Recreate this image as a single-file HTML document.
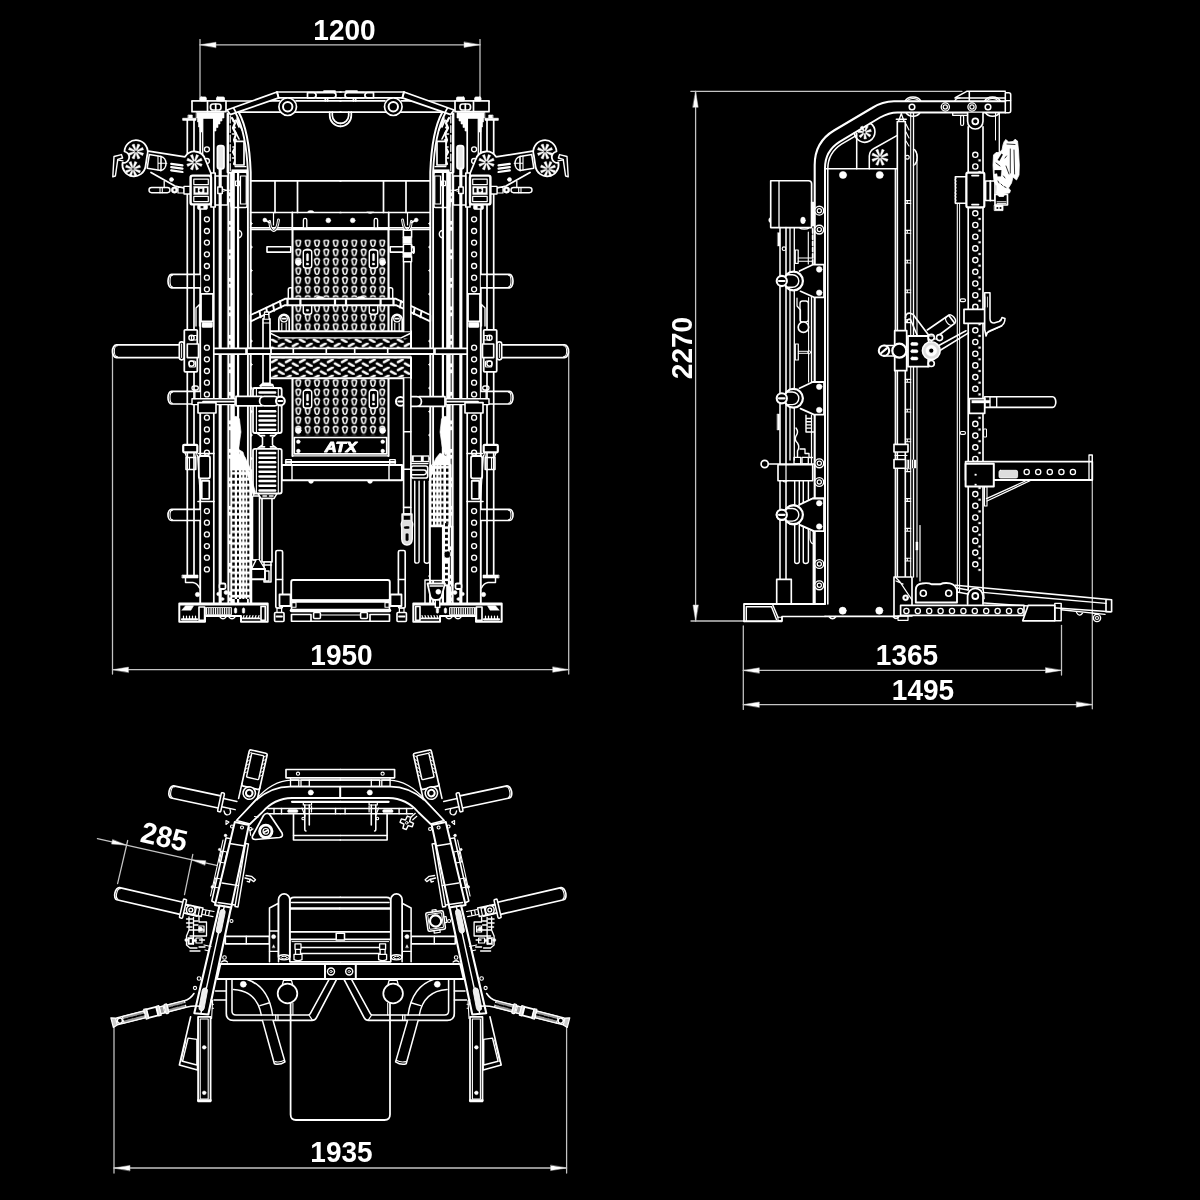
<!DOCTYPE html>
<html><head><meta charset="utf-8"><title>ATX multi-gym dimensions</title>
<style>
html,body{margin:0;padding:0;background:#000;}
body{width:1200px;height:1200px;overflow:hidden;font-family:"Liberation Sans",sans-serif;}
svg{display:block}
svg *{vector-effect:none}
.d{fill:none;stroke:#fff;stroke-width:1.7;stroke-linecap:round;stroke-linejoin:round}
.t{font-family:"Liberation Sans",sans-serif;font-weight:bold;fill:#fff;stroke:none}
</style></head><body>
<svg width="1200" height="1200" viewBox="0 0 1200 1200">
<rect width="1200" height="1200" fill="#000"/>
<g class="d" style="filter:blur(0.4px)">
<g stroke="#c4c4c4">
<path d="M200.0 39.6L200.0 109.0" stroke-width="1.26"/>
<path d="M480.0 39.6L480.0 109.0" stroke-width="1.26"/>
<path d="M200.0 44.8L480.0 44.8" stroke-width="1.26"/>
<path d="M200.0 44.8L216.0 42.2L216.0 47.4Z" fill="#fff" stroke-width="0.5"/>
<path d="M480.0 44.8L464.0 47.4L464.0 42.2Z" fill="#fff" stroke-width="0.5"/>
<text x="344.5" y="39.6" font-size="29.6" text-anchor="middle" textLength="62.3" lengthAdjust="spacingAndGlyphs" class="t">1200</text>
<path d="M112.5 352.0L112.5 674.0" stroke-width="1.26"/>
<path d="M568.7 352.0L568.7 674.0" stroke-width="1.26"/>
<path d="M112.5 669.7L568.7 669.7" stroke-width="1.26"/>
<path d="M112.5 669.7L128.5 667.1L128.5 672.3Z" fill="#fff" stroke-width="0.5"/>
<path d="M568.7 669.7L552.7 672.3L552.7 667.1Z" fill="#fff" stroke-width="0.5"/>
<text x="341.5" y="665.2" font-size="29.6" text-anchor="middle" textLength="62.3" lengthAdjust="spacingAndGlyphs" class="t">1950</text>
<path d="M695.6 91.3L695.6 621.0" stroke-width="1.26"/>
<path d="M690.8 91.3L962.0 91.3" stroke-width="1.26"/>
<path d="M691.0 621.0L781.0 621.0" stroke-width="1.26"/>
<path d="M695.6 91.3L698.2 107.3L693.0 107.3Z" fill="#fff" stroke-width="0.5"/>
<path d="M695.6 621.0L693.0 605.0L698.2 605.0Z" fill="#fff" stroke-width="0.5"/>
<text x="691.8" y="348" font-size="29.6" text-anchor="middle" textLength="62.3" lengthAdjust="spacingAndGlyphs" class="t" transform="rotate(-90 691.8 348)">2270</text>
<path d="M743.3 626.0L743.3 709.4" stroke-width="1.26"/>
<path d="M1061.5 625.4L1061.5 675.0" stroke-width="1.26"/>
<path d="M1092.3 456.0L1092.3 708.8" stroke-width="1.26"/>
<path d="M743.3 670.4L1061.5 670.4" stroke-width="1.26"/>
<path d="M743.3 704.6L1092.3 704.6" stroke-width="1.26"/>
<path d="M743.3 670.4L759.3 667.8L759.3 673.0Z" fill="#fff" stroke-width="0.5"/>
<path d="M1061.5 670.4L1045.5 673.0L1045.5 667.8Z" fill="#fff" stroke-width="0.5"/>
<path d="M743.3 704.6L759.3 702.0L759.3 707.2Z" fill="#fff" stroke-width="0.5"/>
<path d="M1092.3 704.6L1076.3 707.2L1076.3 702.0Z" fill="#fff" stroke-width="0.5"/>
<text x="907" y="665" font-size="29.6" text-anchor="middle" textLength="62.3" lengthAdjust="spacingAndGlyphs" class="t">1365</text>
<text x="923" y="699.8" font-size="29.6" text-anchor="middle" textLength="62.3" lengthAdjust="spacingAndGlyphs" class="t">1495</text>
<path d="M114.0 1027.0L114.0 1173.0" stroke-width="1.26"/>
<path d="M566.6 1027.0L566.6 1173.0" stroke-width="1.26"/>
<path d="M114.0 1168.0L566.6 1168.0" stroke-width="1.26"/>
<path d="M114.0 1168.0L130.0 1165.4L130.0 1170.6Z" fill="#fff" stroke-width="0.5"/>
<path d="M566.6 1168.0L550.6 1170.6L550.6 1165.4Z" fill="#fff" stroke-width="0.5"/>
<text x="341.5" y="1161.6" font-size="29.6" text-anchor="middle" textLength="62.3" lengthAdjust="spacingAndGlyphs" class="t">1935</text>
<path d="M97.4 838.7L216.6 865.3" stroke-width="1.26"/>
<path d="M127.7 840.5L117.6 883.6" stroke-width="1.26"/>
<path d="M192.8 854.3L184.5 894.6" stroke-width="1.26"/>
<path d="M126.2 845.1L111.6 844.1L112.5 839.8Z" fill="#fff" stroke-width="0.5"/>
<path d="M191.3 859.7L205.9 860.7L205.0 865.0Z" fill="#fff" stroke-width="0.5"/>
<text x="162" y="846.6" font-size="29.6" text-anchor="middle" textLength="46.8" lengthAdjust="spacingAndGlyphs" class="t" transform="rotate(12.6 162 846.6)">285</text>
</g>
<defs>
<pattern id="ph" patternUnits="userSpaceOnUse" x="293.67" y="238.63" width="9.33" height="9.33">
<path d="M2.3 3.1Q2.3 1.3 4.67 1.3Q7.03 1.3 7.03 3.1L6 7Q4.67 8.4 3.33 7Z" fill="#000" stroke="#fff" stroke-width="1.5"/>
</pattern>
<pattern id="pd" patternUnits="userSpaceOnUse" x="270.8" y="358.8" width="14" height="8">
<path d="M1.1 3.3L5.9 0.7M8.1 4.7L12.9 7.3" stroke="#fff" stroke-width="2.5" stroke-linecap="round"/>
</pattern>
<pattern id="pd1" patternUnits="userSpaceOnUse" x="263.7" y="334.8" width="14" height="8">
<path d="M1.1 3.3L5.9 0.7M8.1 4.7L12.9 7.3" stroke="#fff" stroke-width="2.5" stroke-linecap="round"/>
</pattern>
<pattern id="pg" patternUnits="userSpaceOnUse" x="228" y="502.4" width="24" height="5.85">
<rect width="24" height="5.85" fill="#fff" stroke="none"/>
<rect x="4.25" y="1.5" width="2.5" height="3.2" fill="#000" stroke="none"/><rect x="9" y="1.5" width="2" height="3.2" fill="#000" stroke="none"/>
<rect x="13.3" y="1.9" width="1" height="2.4" fill="#000" stroke="none"/><rect x="16.4" y="1.8" width="1.3" height="2.6" fill="#000" stroke="none"/><rect x="19.3" y="1.5" width="2" height="3.2" fill="#000" stroke="none"/>
</pattern>
<pattern id="pgr" patternUnits="userSpaceOnUse" x="429" y="461.2" width="24" height="5.87">
<rect width="24" height="5.87" fill="#fff" stroke="none"/>
<rect x="17" y="1.5" width="2.4" height="3.2" fill="#000" stroke="none"/><rect x="12.4" y="1.5" width="2" height="3.2" fill="#000" stroke="none"/>
<rect x="9.5" y="1.9" width="1.1" height="2.4" fill="#000" stroke="none"/><rect x="6.2" y="1.8" width="1.1" height="2.6" fill="#000" stroke="none"/><rect x="2.4" y="1.5" width="1.6" height="3.2" fill="#000" stroke="none"/>
</pattern>
</defs>
<g id="fl"><path d="M192.0 101.0L253.0 101.0"/>
<path d="M296.0 100.8L340.9 100.8"/>
<path d="M270.0 100.8L279.5 100.8"/>
<path d="M240.0 112.2L340.9 112.2"/>
<rect x="192.0" y="101.0" width="34.0" height="10.7" fill="#000"/>
<path d="M207.5 101.0L207.5 111.7"/>
<rect x="210.5" y="104.0" width="10.5" height="6.0" rx="2.5"/>
<path d="M215.7 104.0L215.7 110.0"/>
<rect x="200.0" y="97.0" width="6.3" height="4.0" rx="1.2" fill="#fff" stroke-width="0.8"/>
<rect x="216.5" y="97.0" width="8.0" height="4.0" rx="1.2" fill="#fff" stroke-width="0.8"/>
<path d="M227.0 110.0L277.0 92.0L278.7 97.9L230.3 114.6Z" fill="#000"/>
<path d="M233.8 108.3L236.0 112.7"/>
<path d="M277.0 92.0L340.9 92.0"/>
<path d="M278.7 97.9L340.9 97.9"/>
<path d="M277.0 92.0L278.7 97.9"/>
<path d="M307.5 92.6H313.5A2.6 2.6 0 0 1 313.5 97.8H307.5Z"/>
<path d="M317 92.6H333.4A2.6 2.6 0 0 1 333.4 97.8H317"/>
<path d="M324.0 91.2L335.0 91.2" stroke-width="1.76"/>
<path d="M325.3 98.0L325.3 100.8"/>
<path d="M327.6 98.0L327.6 100.8"/>
<circle cx="287.7" cy="106.7" r="8.8" fill="#000"/>
<circle cx="287.7" cy="106.7" r="4.7" stroke-width="1.98"/>
<path d="M329.7 112.2V115.5A10.8 10.8 0 0 0 340.5 126.3"/>
<path d="M332.3 112.2V115.5A8.2 8.2 0 0 0 340.5 123.4"/>
<path d="M238.7 112.3C244 122 249.5 140 250.7 172V603" stroke-width="1.98"/>
<path d="M236 113.7C241 123 246.5 141 247.9 172V603" stroke-width="1.87"/>
<path d="M250.7 180.8L340.9 180.8"/>
<path d="M275.0 180.8L275.0 212.5"/>
<path d="M297.5 180.8L297.5 212.5"/>
<path d="M250.7 212.5L340.9 212.5"/>
<path d="M250.7 227.8L340.9 227.8"/>
<path d="M250.7 229.6L340.9 229.6" stroke-width="1.32"/>
<path d="M292.3 212.5L292.3 228.0" stroke-width="1.76"/>
<path d="M187.3 120.3L187.3 575.0"/>
<path d="M194.0 120.3L194.0 575.0"/>
<rect x="183.0" y="118.3" width="13.0" height="2.0" fill="#fff" stroke-width="0.8"/>
<rect x="188.3" y="115.0" width="4.0" height="3.0" fill="#fff" stroke-width="0.6"/>
<path d="M196.5 112.5H224V118H222V121H220V124H218V127.5H216V131H214V118.5H203V118.5H202V132H200V127H198.5V122H197.5V118H196.5Z" fill="#fff" stroke-width="0.6"/>
<path d="M200.2 126.0L200.2 603.0" stroke-width="1.87"/>
<path d="M202.7 118.0L202.7 175.0" stroke-width="1.32"/>
<path d="M213.8 118.0L213.8 603.0"/>
<circle cx="206.9" cy="149.3" r="2.5" stroke-width="1.32"/>
<circle cx="206.9" cy="161.0" r="2.5" stroke-width="1.32"/>
<circle cx="206.9" cy="219.3" r="2.5" stroke-width="1.32"/>
<circle cx="206.9" cy="231.0" r="2.5" stroke-width="1.32"/>
<circle cx="206.9" cy="242.6" r="2.5" stroke-width="1.32"/>
<circle cx="206.9" cy="254.3" r="2.5" stroke-width="1.32"/>
<circle cx="206.9" cy="266.0" r="2.5" stroke-width="1.32"/>
<circle cx="206.9" cy="277.7" r="2.5" stroke-width="1.32"/>
<circle cx="206.9" cy="289.3" r="2.5" stroke-width="1.32"/>
<circle cx="206.9" cy="347.7" r="2.5" stroke-width="1.32"/>
<circle cx="206.9" cy="359.3" r="2.5" stroke-width="1.32"/>
<circle cx="206.9" cy="371.0" r="2.5" stroke-width="1.32"/>
<circle cx="206.9" cy="382.7" r="2.5" stroke-width="1.32"/>
<circle cx="206.9" cy="394.4" r="2.5" stroke-width="1.32"/>
<circle cx="206.9" cy="417.7" r="2.5" stroke-width="1.32"/>
<circle cx="206.9" cy="429.4" r="2.5" stroke-width="1.32"/>
<circle cx="206.9" cy="441.0" r="2.5" stroke-width="1.32"/>
<circle cx="206.9" cy="452.7" r="2.5" stroke-width="1.32"/>
<circle cx="206.9" cy="511.1" r="2.5" stroke-width="1.32"/>
<circle cx="206.9" cy="522.7" r="2.5" stroke-width="1.32"/>
<circle cx="206.9" cy="534.4" r="2.5" stroke-width="1.32"/>
<circle cx="206.9" cy="546.1" r="2.5" stroke-width="1.32"/>
<circle cx="206.9" cy="557.7" r="2.5" stroke-width="1.32"/>
<circle cx="206.9" cy="569.4" r="2.5" stroke-width="1.32"/>
<rect x="217.4" y="145.7" width="6.6" height="23.3" rx="2.4" fill="#e8e8e8"/>
<path d="M220.8 169.0L220.8 603.0" stroke-width="1.21"/>
<path d="M220.1 169.0L220.1 603.0" stroke-width="2.97"/>
<path d="M227.8 113.7L227.8 172.0" stroke-width="2.42"/>
<path d="M230.2 116V172" stroke-width="1.21" stroke-dasharray="7 2.5"/>
<rect x="227.8" y="172.0" width="6.7" height="431.0" fill="#fff" stroke-width="0.6"/>
<path d="M229.8 174V603" stroke-width="1.1" stroke="#333" stroke-dasharray="18 4.5 1.5 4.5"/>
<path d="M238.1 172.0L238.1 603.0" stroke-width="2.2"/>
<path d="M250.9 222.0l1.7 1.6l-1.7 1.6M250.9 245.5l1.7 1.6l-1.7 1.6M250.9 269.0l1.7 1.6l-1.7 1.6M250.9 292.5l1.7 1.6l-1.7 1.6M250.9 316.0l1.7 1.6l-1.7 1.6M250.9 339.5l1.7 1.6l-1.7 1.6M250.9 363.0l1.7 1.6l-1.7 1.6M250.9 386.5l1.7 1.6l-1.7 1.6M250.9 410.0l1.7 1.6l-1.7 1.6M250.9 433.5l1.7 1.6l-1.7 1.6M250.9 457.0l1.7 1.6l-1.7 1.6M250.9 480.5l1.7 1.6l-1.7 1.6M250.9 504.0l1.7 1.6l-1.7 1.6M250.9 527.5l1.7 1.6l-1.7 1.6M250.9 551.0l1.7 1.6l-1.7 1.6M250.9 574.5l1.7 1.6l-1.7 1.6" fill="#fff" stroke-width="0.6"/>
<path d="M238.3 230.5A3.4 3.6 0 0 1 238.3 237.7" stroke-width="1.43"/>
<path d="M232 118l3 5l-2 5l3 6l-2 6l2 6l-3 6l3 6l-2 6" stroke-width="2.2"/>
<path d="M236 120l3 7M235 131l4 8M237 118l5 12M233 121h3M232.5 134h3.5M233 147h2.5M232.5 158h3" stroke-width="1.65"/>
<circle cx="234.3" cy="127.5" r="1.3" fill="#fff" stroke-width="0.4"/>
<circle cx="235.5" cy="140.0" r="1.2" fill="#fff" stroke-width="0.4"/>
<circle cx="236.8" cy="152.0" r="1.5" fill="#fff" stroke-width="0.4"/>
<rect x="235.0" y="141.3" width="9.0" height="23.7" fill="#000"/>
<path d="M235.0 166.6L246.0 166.6" stroke-width="1.1"/>
<rect x="232.0" y="169.7" width="15.0" height="2.6" fill="#fff" stroke-width="0.5"/>
<path d="M148.5 151.2L185 156.8C187.5 153 191 151.3 195 151.5C200 151.8 204 155 205.5 160L211 173.5V189.5H190.5L175 186L151 172.5" fill="#000" stroke-width="1.76"/>
<path d="M124.5 151.5A11.6 11.6 0 1 1 147.2 155.2L145.5 166.5A11.6 11.6 0 1 1 122.5 162.8A5 5 0 0 0 124.5 151.5Z" fill="#000" stroke-width="1.76"/>
<path d="M137.29 152.57L142.54 155.56L143.50 153.25L137.67 151.65ZM136.15 153.17L137.75 159.00L140.06 158.04L137.07 152.79ZM134.93 152.79L131.94 158.04L134.25 159.00L135.85 153.17ZM134.33 151.65L128.50 153.25L129.46 155.56L134.71 152.57ZM134.71 150.43L129.46 147.44L128.50 149.75L134.33 151.35ZM135.85 149.83L134.25 144.00L131.94 144.96L134.93 150.21ZM137.07 150.21L140.06 144.96L137.75 144.00L136.15 149.83ZM137.67 151.35L143.50 149.75L142.54 147.44L137.29 150.43Z" fill="#fff" stroke-width="0.5"/>
<path d="M134.29 170.07L139.54 173.06L140.50 170.75L134.67 169.15ZM133.15 170.67L134.75 176.50L137.06 175.54L134.07 170.29ZM131.93 170.29L128.94 175.54L131.25 176.50L132.85 170.67ZM131.33 169.15L125.50 170.75L126.46 173.06L131.71 170.07ZM131.71 167.93L126.46 164.94L125.50 167.25L131.33 168.85ZM132.85 167.33L131.25 161.50L128.94 162.46L131.93 167.71ZM134.07 167.71L137.06 162.46L134.75 161.50L133.15 167.33ZM134.67 168.85L140.50 167.25L139.54 164.94L134.29 167.93Z" fill="#fff" stroke-width="0.5"/>
<path d="M195.79 163.37L201.23 166.44L202.18 164.13L196.17 162.45ZM194.65 163.97L196.33 169.98L198.64 169.03L195.57 163.59ZM193.43 163.59L190.36 169.03L192.67 169.98L194.35 163.97ZM192.83 162.45L186.82 164.13L187.77 166.44L193.21 163.37ZM193.21 161.23L187.77 158.16L186.82 160.47L192.83 162.15ZM194.35 160.63L192.67 154.62L190.36 155.57L193.43 161.01ZM195.57 161.01L198.64 155.57L196.33 154.62L194.65 160.63ZM196.17 162.15L202.18 160.47L201.23 158.16L195.79 161.23Z" fill="#fff" stroke-width="0.5"/>
<path d="M149.3 154.6L161 156.4V170.6L147.2 168.2Z" stroke-width="1.54"/>
<path d="M161 156.4A6 7.2 0 0 1 161 170.6" stroke-width="1.54"/>
<path d="M158 156V170M158 163.3H166.8" stroke-width="1.1"/>
<path d="M171.2 163.8L182.5 165.4" stroke-width="2.2"/>
<path d="M171.2 167.1L182.5 168.7" stroke-width="2.2"/>
<path d="M171.2 170.4L182.5 172.0" stroke-width="2.2"/>
<circle cx="171.5" cy="179.6" r="2.0" fill="#fff" stroke-width="0.6"/>
<path d="M114 156.5L121.5 154.6L122.6 158L117.8 159.4L115.4 176L112.8 176.8Z" stroke-width="1.43"/>
<path d="M117.5 160.0L123.0 160.8" stroke-width="1.21"/>
<rect x="149.0" y="187.5" width="21.0" height="5.2" rx="2.6" fill="#000" stroke-width="1.43"/>
<path d="M160.0 187.5L160.0 192.7" stroke-width="1.1"/>
<path d="M162.3 187.5L162.3 192.7" stroke-width="1.1"/>
<path d="M164.2 181.5L164.2 187.5" stroke-width="1.32"/>
<circle cx="174.5" cy="190.0" r="3.2" fill="#fff" stroke-width="0.6"/>
<circle cx="174.5" cy="190.0" r="1.2" fill="#000" stroke-width="0.3"/>
<rect x="178.0" y="187.3" width="6.0" height="5.7" stroke-width="1.21"/>
<rect x="184.0" y="186.3" width="6.5" height="7.7" fill="#000" stroke-width="1.32"/>
<rect x="211.0" y="173.0" width="4.2" height="34.0" fill="#000"/>
<rect x="190.6" y="175.6" width="20.4" height="28.8" rx="2" fill="#000" stroke-width="2.42"/>
<rect x="193.8" y="179.2" width="14.5" height="5.4" stroke-width="1.21"/>
<rect x="193.8" y="196.4" width="14.5" height="5.2" stroke-width="1.21"/>
<rect x="193.8" y="186.5" width="14.5" height="8.0" fill="#fff" stroke-width="0.5"/>
<circle cx="201.0" cy="190.3" r="2.1" fill="#000" stroke-width="0.8"/>
<rect x="195.3" y="188.0" width="2.7" height="4.6" fill="#000" stroke-width="0.3"/>
<rect x="204.3" y="188.0" width="2.7" height="4.6" fill="#000" stroke-width="0.3"/>
<rect x="197.5" y="204.6" width="10.0" height="4.9" rx="1.5" fill="#fff" stroke-width="0.6"/>
<rect x="200.5" y="206.0" width="3.0" height="2.3" fill="#000" stroke-width="0.3"/>
<rect x="215.2" y="176.0" width="12.3" height="29.0" stroke-width="1.32"/>
<rect x="217.8" y="187.0" width="4.5" height="6.5" fill="#000" stroke-width="1.43"/>
<path d="M222.3 189l4 1.3l-4 1.3" stroke-width="1.1"/>
<rect x="231.0" y="172.3" width="16.0" height="35.2" rx="1.5" stroke-width="1.43"/>
<rect x="240.5" y="176.0" width="5.7" height="28.0" stroke-width="1.21"/>
<rect x="235.6" y="181.0" width="4.0" height="4.6" stroke-width="1.21"/>
<path d="M226.0 190.3L232.0 190.3" stroke-width="1.1"/>
<path d="M200.2 274.3H171.5A3.5 6.75 0 0 0 171.5 287.8H200.2" fill="#000" stroke-width="1.65"/>
<path d="M172.6 275.1A2.6 5.95 0 0 0 172.6 287.0" stroke-width="1.1"/>
<path d="M187.3 274.3L187.3 287.8"/>
<path d="M194.0 274.3L194.0 287.8"/>
<path d="M200.2 391.3H171.5A3.5 6.349999999999994 0 0 0 171.5 404H200.2" fill="#000" stroke-width="1.65"/>
<path d="M172.6 392.1A2.6 5.5499999999999945 0 0 0 172.6 403.2" stroke-width="1.1"/>
<path d="M187.3 391.3L187.3 404.0"/>
<path d="M194.0 391.3L194.0 404.0"/>
<path d="M200.2 509.3H171.5A3.5 5.599999999999994 0 0 0 171.5 520.5H200.2" fill="#000" stroke-width="1.65"/>
<path d="M172.6 510.1A2.6 4.7999999999999945 0 0 0 172.6 519.7" stroke-width="1.1"/>
<path d="M187.3 509.3L187.3 520.5"/>
<path d="M194.0 509.3L194.0 520.5"/>
<rect x="201.0" y="293.8" width="12.0" height="27.7" fill="#000" stroke-width="1.76"/>
<rect x="202.0" y="322.5" width="10.5" height="5.0" rx="1" fill="#fff" stroke-width="0.5"/>
<path d="M196 326V308L199.5 304.5V326" stroke-width="1.32"/>
<path d="M180 344.8H116.5A4 6.4 0 0 0 116.5 357.6H180" fill="#000" stroke-width="1.76"/>
<path d="M117.3 345.8A3 5.4 0 0 0 117.3 356.6" stroke-width="1.1"/>
<rect x="184.3" y="329.8" width="13.0" height="42.0" rx="1" fill="#000" stroke-width="1.76"/>
<rect x="187.3" y="344.0" width="11.2" height="13.6" fill="#000" stroke-width="1.65"/>
<circle cx="191.5" cy="337.8" r="2.6" stroke-width="1.43"/>
<rect x="191.5" y="335.5" width="5.5" height="4.5" rx="1" stroke-width="1.21"/>
<circle cx="191.5" cy="363.6" r="2.6" stroke-width="1.43"/>
<rect x="189.2" y="361.0" width="6.3" height="6.0" rx="1" stroke-width="1.21"/>
<rect x="179.3" y="341.8" width="4.7" height="18.0" rx="2.2" fill="#000" stroke-width="1.65"/>
<path d="M181.6 344.0L181.6 357.5" stroke-width="0.99"/>
<rect x="213.8" y="348.4" width="32.2" height="5.8" fill="#000" stroke-width="1.65"/>
<rect x="192.0" y="398.8" width="43.0" height="5.8" fill="#000" stroke-width="1.43"/>
<path d="M203.0 401.7L234.0 401.7" stroke-width="1.76"/>
<rect x="198.0" y="402.6" width="18.0" height="10.4" fill="#000" stroke-width="1.65"/>
<rect x="192.0" y="386.0" width="6.3" height="4.0" rx="2" stroke-width="1.32"/>
<path d="M195.0 390.0L195.0 398.8" stroke-width="1.1"/>
<rect x="183.2" y="444.8" width="14.1" height="7.5" rx="1" fill="#000" stroke-width="2.2"/>
<rect x="186.0" y="457.5" width="9.8" height="12.0" stroke-width="1.54"/>
<path d="M189.5 457.5L189.5 469.5" stroke-width="1.1"/>
<path d="M185 452.5L186.5 457.5M196.5 452.5L195.5 457.5" stroke-width="1.21"/>
<rect x="198.8" y="456.0" width="11.2" height="22.5" rx="2" fill="#000" stroke-width="1.76"/>
<rect x="201.8" y="480.8" width="7.5" height="18.0" fill="#000" stroke-width="1.65"/>
<path d="M197.5 455L200.5 500" stroke-width="1.1"/>
<path d="M198.0 453.5L214.0 453.5" stroke-width="1.43"/>
<path d="M198.0 501.5L214.0 501.5" stroke-width="1.65"/>
<rect x="182.3" y="575.0" width="15.7" height="3.0" fill="#fff" stroke-width="0.6"/>
<path d="M185.5 578V582.5H193C196 583 198 585 199.5 588" stroke-width="1.43"/>
<rect x="219.5" y="583.5" width="6.0" height="5.5" rx="1.5" fill="#000" stroke-width="1.76"/>
<circle cx="218.5" cy="594.0" r="1.8" fill="#fff" stroke-width="0.5"/>
<circle cx="226.0" cy="592.5" r="2.0" fill="#fff" stroke-width="0.5"/>
<circle cx="222.5" cy="599.0" r="1.5" fill="#fff" stroke-width="0.5"/>
<circle cx="197.5" cy="594.5" r="2.2" fill="#fff" stroke-width="0.5"/>
<path d="M179.3 603.5H267.7V621.8H241V616H205V621.8H179.3Z" fill="#000" stroke-width="1.98"/>
<path d="M180.0 604.6L267.0 604.6" stroke-width="1.76"/>
<rect x="199.0" y="607.0" width="5.6" height="13.3" fill="#000" stroke-width="1.65"/>
<rect x="261.0" y="606.5" width="4.3" height="13.8" fill="#000" stroke-width="1.65"/>
<path d="M182 610L185.5 605.8H193.5L191 610Z" fill="#fff" stroke-width="0.6"/>
<path d="M182.0 619.3L197.0 619.3" stroke-width="2.2"/>
<path d="M183.5 616v3M186.5 616v3M189.5 616v3M192.5 616v3M195.5 616v3" stroke-width="1.21"/>
<rect x="205.5" y="607.6" width="26.0" height="7.0" fill="#fff" stroke-width="0.8"/>
<path d="M207.7 608.4V613.8M209.9 608.4V613.8M212.2 608.4V613.8M214.4 608.4V613.8M216.7 608.4V613.8M218.9 608.4V613.8M221.2 608.4V613.8M223.4 608.4V613.8M225.7 608.4V613.8M227.9 608.4V613.8M230.2 608.4V613.8" stroke-width="0.99" stroke="#000"/>
<path d="M205.0 615.6L240.0 615.6" stroke-width="1.1"/>
<rect x="234.3" y="608.0" width="2.5" height="5.3" rx="1.2" fill="#fff" stroke-width="0.4"/>
<rect x="242.3" y="608.0" width="2.5" height="5.3" rx="1.2" fill="#fff" stroke-width="0.4"/>
<path d="M219.5 616.3q3.5 5 7 0M228.5 616.3q3.5 5 7 0" stroke-width="1.43"/>
<path d="M243.0 618.4L259.5 618.4" stroke-width="1.76"/>
<path d="M244 615.5l-1 3M247 615.5l-1 3M250 615.5l-1 3M253 615.5l-1 3M256 615.5l-1 3M259 615.5l-1 3" stroke-width="1.1"/></g>
<use href="#fl" transform="translate(681.0 0) scale(-1 1)"/>
<path d="M269.6 221.5Q270.3 229.5 273.7 230.6Q277.3 229.5 278.5 220" stroke-width="2.86"/>
<path d="M269.6 221.5Q270.3 229.5 273.7 230.6Q277.3 229.5 278.5 220" stroke-width="0.8" stroke="#000"/>
<circle cx="264.8" cy="220.0" r="1.9" fill="#fff" stroke-width="0.5"/>
<path d="M264.8 220.0L269.5 222.5" stroke-width="1.87"/>
<rect x="303.4" y="218.3" width="3.4" height="11.7" rx="1.6" fill="#000" stroke-width="1.32"/>
<circle cx="328.3" cy="220.4" r="2.4" fill="#fff" stroke-width="0.5"/>
<path d="M307.5 212A3.3 1.8 0 0 1 314.0 212Z" fill="#fff" stroke-width="0.4"/>
<rect x="267.0" y="246.7" width="23.8" height="5.4" fill="#000" stroke-width="1.65"/>
<path d="M411.4 221.5Q410.7 229.5 407.3 230.6Q403.7 229.5 402.5 220" stroke-width="2.86"/>
<path d="M411.4 221.5Q410.7 229.5 407.3 230.6Q403.7 229.5 402.5 220" stroke-width="0.8" stroke="#000"/>
<circle cx="416.2" cy="220.0" r="1.9" fill="#fff" stroke-width="0.5"/>
<path d="M416.2 220.0L411.5 222.5" stroke-width="1.87"/>
<rect x="374.2" y="218.3" width="3.4" height="11.7" rx="1.6" fill="#000" stroke-width="1.32"/>
<circle cx="352.7" cy="220.4" r="2.4" fill="#fff" stroke-width="0.5"/>
<path d="M373.5 212A3.3 1.8 0 0 1 367.0 212Z" fill="#fff" stroke-width="0.4"/>
<rect x="390.2" y="246.7" width="23.8" height="5.4" fill="#000" stroke-width="1.65"/>
<path d="M273.5 212.5L273.5 225.0" stroke-width="1.21"/>
<path d="M407.5 212.5L407.5 225.0" stroke-width="1.21"/>
<rect x="292.5" y="229" width="96.0" height="70" fill="#000" stroke="none"/>
<rect x="293.5" y="239.5" width="94.0" height="58" fill="url(#ph)" stroke="none"/>
<rect x="293.5" y="305.5" width="94.0" height="25.5" fill="url(#ph)" stroke="none"/>
<rect x="293.5" y="378.6" width="94.0" height="56.6" fill="url(#ph)" stroke="none"/>
<path d="M292.5 228.8L388.5 228.8" stroke-width="3.08"/>
<path d="M292.5 229.0L292.5 331.0" stroke-width="2.09"/>
<path d="M388.5 229.0L388.5 331.0" stroke-width="2.09"/>
<path d="M292.5 378.0L292.5 456.0" stroke-width="2.09"/>
<path d="M388.5 378.0L388.5 456.0" stroke-width="2.09"/>
<rect x="303.3" y="250.0" width="8.4" height="18.0" rx="2.2" fill="#000" stroke-width="1.43"/>
<rect x="306.4" y="253.6" width="2.2" height="7.4" rx="1" fill="#fff" stroke-width="0.3"/>
<rect x="306.2" y="263.1" width="2.6" height="1.9" rx="0.6" fill="#fff" stroke-width="0.3"/>
<rect x="303.3" y="390.4" width="8.4" height="17.6" rx="2.2" fill="#000" stroke-width="1.43"/>
<rect x="306.4" y="394.0" width="2.2" height="7.0" rx="1" fill="#fff" stroke-width="0.3"/>
<rect x="306.2" y="403.1" width="2.6" height="1.9" rx="0.6" fill="#fff" stroke-width="0.3"/>
<rect x="303.3" y="300.0" width="8.4" height="14.2" rx="2.2" fill="#000" stroke-width="1.43"/>
<circle cx="307.5" cy="302.8" r="1.5" fill="#fff" stroke-width="0.4"/>
<rect x="306.2" y="309.3" width="2.6" height="1.9" rx="0.6" fill="#fff" stroke-width="0.3"/>
<rect x="369.3" y="250.0" width="8.4" height="18.0" rx="2.2" fill="#000" stroke-width="1.43"/>
<rect x="372.4" y="253.6" width="2.2" height="7.4" rx="1" fill="#fff" stroke-width="0.3"/>
<rect x="372.2" y="263.1" width="2.6" height="1.9" rx="0.6" fill="#fff" stroke-width="0.3"/>
<rect x="369.3" y="390.4" width="8.4" height="17.6" rx="2.2" fill="#000" stroke-width="1.43"/>
<rect x="372.4" y="394.0" width="2.2" height="7.0" rx="1" fill="#fff" stroke-width="0.3"/>
<rect x="372.2" y="403.1" width="2.6" height="1.9" rx="0.6" fill="#fff" stroke-width="0.3"/>
<rect x="369.3" y="300.0" width="8.4" height="14.2" rx="2.2" fill="#000" stroke-width="1.43"/>
<circle cx="373.5" cy="302.8" r="1.5" fill="#fff" stroke-width="0.4"/>
<rect x="372.2" y="309.3" width="2.6" height="1.9" rx="0.6" fill="#fff" stroke-width="0.3"/>
<circle cx="298.3" cy="262.3" r="2.9" fill="#fff" stroke-width="0.5"/>
<circle cx="298.3" cy="430.4" r="2.9" fill="#fff" stroke-width="0.5"/>
<path d="M288.3 298v-8.5q0 -1.8 1.8 -1.8h2v10.3" stroke-width="1.43"/>
<circle cx="382.7" cy="262.3" r="2.9" fill="#fff" stroke-width="0.5"/>
<circle cx="382.7" cy="430.4" r="2.9" fill="#fff" stroke-width="0.5"/>
<path d="M392.7 298v-8.5q0 -1.8 -1.8 -1.8h-2v10.3" stroke-width="1.43"/>
<path d="M250.8 315L285 298.8H396.0L430.2 315V321.3L396.0 305.2H285L250.8 321.3Z" fill="#000" stroke-width="1.87"/>
<path d="M287.5 298.8L287.5 305.2" stroke-width="2.2"/>
<path d="M300.4 298.8L300.4 305.2" stroke-width="2.2"/>
<path d="M335.0 298.8L335.0 305.2" stroke-width="2.2"/>
<path d="M346.0 298.8L346.0 305.2" stroke-width="2.2"/>
<path d="M380.6 298.8L380.6 305.2" stroke-width="2.2"/>
<path d="M393.5 298.8L393.5 305.2" stroke-width="2.2"/>
<path d="M259.4 310.9L260.6 317.2" stroke-width="1.98"/>
<path d="M421.6 310.9L420.4 317.2" stroke-width="1.98"/>
<path d="M266.2 307.7L267.4 314.0" stroke-width="1.98"/>
<path d="M414.8 307.7L413.6 314.0" stroke-width="1.98"/>
<path d="M273.0 304.5L274.2 310.8" stroke-width="1.98"/>
<path d="M408.0 304.5L406.8 310.8" stroke-width="1.98"/>
<path d="M279.9 301.2L281.1 307.5" stroke-width="1.98"/>
<path d="M401.1 301.2L399.9 307.5" stroke-width="1.98"/>
<path d="M316 298.3A4 2 0 0 1 324 298.3ZM365.0 298.3A4 2 0 0 0 357.0 298.3Z" fill="#fff" stroke-width="0.3"/>
<path d="M278.8 331V319.5A5.2 5.2 0 0 1 289.2 319.5V331" fill="#000" stroke-width="1.65"/>
<circle cx="284.0" cy="318.6" r="3.3" stroke-width="1.32"/>
<path d="M282.3 318.6L285.7 318.6" stroke-width="1.65"/>
<path d="M281.8 323.0L281.8 331.0" stroke-width="1.1"/>
<path d="M286.2 323.0L286.2 331.0" stroke-width="1.1"/>
<path d="M402.2 331V319.5A5.2 5.2 0 0 0 391.8 319.5V331" fill="#000" stroke-width="1.65"/>
<circle cx="397.0" cy="318.6" r="3.3" stroke-width="1.32"/>
<path d="M398.7 318.6L395.3 318.6" stroke-width="1.65"/>
<path d="M399.2 323.0L399.2 331.0" stroke-width="1.1"/>
<path d="M394.8 323.0L394.8 331.0" stroke-width="1.1"/>
<rect x="270.0" y="331.3" width="141.0" height="20.4" fill="#000" stroke-width="1.98"/>
<rect x="271" y="338.5" width="139.0" height="12.5" fill="url(#pd1)" stroke="none"/>
<path d="M270.8 333.5L280 337.9H401.0L410.2 333.5" stroke-width="1.43"/>
<rect x="270.0" y="357.5" width="141.0" height="20.8" fill="#000" stroke-width="1.98"/>
<rect x="271" y="358.6" width="139.0" height="18.6" fill="url(#pd)" stroke="none"/>
<rect x="247.0" y="348.3" width="187.0" height="5.7" fill="#000" stroke-width="1.76"/>
<path d="M293.3 348.3L293.3 354.0" stroke-width="1.65"/>
<path d="M326.3 348.3L326.3 354.0" stroke-width="1.65"/>
<path d="M387.7 348.3L387.7 354.0" stroke-width="1.65"/>
<path d="M354.7 348.3L354.7 354.0" stroke-width="1.65"/>
<path d="M270.0 356.2L411.0 356.2" stroke-width="1.1"/>
<rect x="294.3" y="437.5" width="92.4" height="16.3" fill="#000" stroke-width="1.65"/>
<circle cx="298.3" cy="441.7" r="1.9" fill="#fff" stroke-width="0.4"/>
<circle cx="298.3" cy="451.0" r="1.9" fill="#fff" stroke-width="0.4"/>
<circle cx="382.7" cy="441.7" r="1.9" fill="#fff" stroke-width="0.4"/>
<circle cx="382.7" cy="451.0" r="1.9" fill="#fff" stroke-width="0.4"/>
<text x="340.8" y="451.6" font-size="14" text-anchor="middle" font-style="italic" textLength="32" lengthAdjust="spacingAndGlyphs" style="font-family:'Liberation Sans',sans-serif;font-weight:bold;fill:#fff;stroke:#fff;stroke-width:0.9;paint-order:stroke">ATX</text>
<path d="M292.5 455.8L388.5 455.8" stroke-width="1.32"/>
<path d="M285.8 462.0L395.2 462.0" stroke-width="2.2"/>
<rect x="285.8" y="459.6" width="5.5" height="4.6" stroke-width="1.32"/>
<rect x="389.7" y="459.6" width="5.5" height="4.6" stroke-width="1.32"/>
<rect x="281.7" y="465.0" width="120.3" height="15.3" fill="#000" stroke-width="2.09"/>
<path d="M292.0 465.0L292.0 480.3" stroke-width="1.43"/>
<path d="M389.0 465.0L389.0 480.3" stroke-width="1.43"/>
<path d="M308.5 480.8A2.5 2.6 0 0 0 313.5 480.8Z" fill="#fff" stroke-width="0.4"/>
<path d="M367.5 480.8A2.5 2.6 0 0 0 372.5 480.8Z" fill="#fff" stroke-width="0.4"/>
<rect x="275.8" y="550.5" width="6.8" height="57.5" rx="1.6" fill="#000" stroke-width="1.65"/>
<path d="M275.8 579.5L282.6 579.5" stroke-width="1.32"/>
<rect x="274.6" y="612.5" width="9.4" height="9.0" rx="1" fill="#000" stroke-width="1.65"/>
<rect x="277.0" y="608.0" width="4.6" height="4.5" stroke-width="1.21"/>
<path d="M276.5 616.5L282.0 616.5" stroke-width="1.76"/>
<rect x="279.5" y="594.5" width="11.0" height="11.5" fill="#000" stroke-width="1.76"/>
<rect x="398.4" y="550.5" width="6.8" height="57.5" rx="1.6" fill="#000" stroke-width="1.65"/>
<path d="M405.2 579.5L398.4 579.5" stroke-width="1.32"/>
<rect x="397.0" y="612.5" width="9.4" height="9.0" rx="1" fill="#000" stroke-width="1.65"/>
<rect x="399.4" y="608.0" width="4.6" height="4.5" stroke-width="1.21"/>
<path d="M404.5 616.5L399.0 616.5" stroke-width="1.76"/>
<rect x="390.5" y="594.5" width="11.0" height="11.5" fill="#000" stroke-width="1.76"/>
<rect x="291.2" y="580.0" width="98.6" height="20.5" rx="2" fill="#000" stroke-width="1.87"/>
<path d="M292.0 600.6L389.0 600.6" stroke-width="2.86"/>
<rect x="291.5" y="602.0" width="98.0" height="8.5" fill="#000" stroke-width="1.65"/>
<path d="M291.5 610.6L389.5 610.6" stroke-width="3.52"/>
<rect x="291.9" y="602.6" width="4.1" height="4.6" fill="#000" stroke-width="1.1"/>
<rect x="385.0" y="602.6" width="4.1" height="4.6" fill="#000" stroke-width="1.1"/>
<rect x="291.5" y="614.5" width="19.5" height="6.7" stroke-width="1.65"/>
<rect x="370.0" y="614.5" width="19.5" height="6.7" stroke-width="1.65"/>
<rect x="313.6" y="612.6" width="6.8" height="6.0" rx="1" fill="#000" stroke-width="1.54"/>
<rect x="360.6" y="612.6" width="6.8" height="6.0" rx="1" fill="#000" stroke-width="1.54"/>
<path d="M320.4 615.0L360.6 615.0" stroke-width="1.21"/>
<path d="M311.0 621.3L370.0 621.3" stroke-width="1.43"/>
<rect x="263.0" y="318.8" width="7.0" height="64.5" fill="#000" stroke-width="1.65"/>
<path d="M264 318.8L264.6 312H268.6L269.2 318.8" fill="#000" stroke-width="1.43"/>
<path d="M264.3 314.5L268.9 314.5" stroke-width="1.1"/>
<path d="M263.0 323.0L270.0 323.0" stroke-width="1.1"/>
<path d="M263 383.3L260 385.8H272.5L270 383.3M253.3 388.3H281" stroke-width="1.54"/>
<rect x="247.0" y="348.3" width="24.0" height="5.7" fill="#000" stroke-width="1.76"/>
<rect x="253.0" y="388.0" width="28.7" height="45.0" rx="2" fill="#000" stroke-width="1.76"/>
<path d="M256.4 389.0L256.4 432.0" stroke-width="1.1"/>
<path d="M278.3 389.0L278.3 432.0" stroke-width="1.1"/>
<path d="M259.6 392.5L275.1 392.5" stroke-width="2.53"/>
<path d="M259.6 411.3L275.1 411.3" stroke-width="2.53"/>
<path d="M259.6 415.9L275.1 415.9" stroke-width="2.53"/>
<path d="M259.6 420.5L275.1 420.5" stroke-width="2.53"/>
<path d="M259.6 425.1L275.1 425.1" stroke-width="2.53"/>
<path d="M259.6 429.7L275.1 429.7" stroke-width="2.53"/>
<path d="M260.4 388L261.6 384.3H272.6L273.8 388" stroke-width="1.32"/>
<rect x="236.0" y="396.3" width="26.0" height="9.5" fill="#000" stroke-width="1.76"/>
<rect x="259.6" y="396.3" width="19.4" height="9.5" rx="4.6" fill="#000" stroke-width="1.76"/>
<circle cx="280.4" cy="401.0" r="4.4" fill="#000" stroke-width="2.09"/>
<path d="M278.4 401.0L282.4 401.0" stroke-width="1.98"/>
<rect x="419.0" y="396.7" width="26.0" height="9.7" fill="#000" stroke-width="1.76"/>
<rect x="402.0" y="396.7" width="19.4" height="9.7" rx="4.6" fill="#000" stroke-width="1.76"/>
<circle cx="400.4" cy="401.4" r="4.4" fill="#000" stroke-width="2.09"/>
<path d="M402.4 401.4L398.4 401.4" stroke-width="1.98"/>
<path d="M257 433.2L262.5 437.5V445L257 448.8M277.5 433.2L272.5 437.5V445L277.5 448.8" stroke-width="1.54"/>
<path d="M260.5 435.7h4M270.5 435.7h4M260.5 446.8h4M270.5 446.8h4" stroke-width="1.76"/>
<rect x="253.0" y="448.8" width="28.7" height="44.7" rx="2" fill="#000" stroke-width="1.76"/>
<path d="M256.4 449.8L256.4 492.5" stroke-width="1.1"/>
<path d="M278.3 449.8L278.3 492.5" stroke-width="1.1"/>
<path d="M259.6 453.0L275.1 453.0" stroke-width="2.53"/>
<path d="M259.6 457.7L275.1 457.7" stroke-width="2.53"/>
<path d="M259.6 462.3L275.1 462.3" stroke-width="2.53"/>
<path d="M259.6 467.0L275.1 467.0" stroke-width="2.53"/>
<path d="M259.6 471.7L275.1 471.7" stroke-width="2.53"/>
<path d="M259.6 476.4L275.1 476.4" stroke-width="2.53"/>
<path d="M259.6 481.0L275.1 481.0" stroke-width="2.53"/>
<path d="M259.6 485.7L275.1 485.7" stroke-width="2.53"/>
<path d="M259.6 490.4L275.1 490.4" stroke-width="2.53"/>
<path d="M258 493.7L261 498.5H274L277 493.7" stroke-width="1.43"/>
<path d="M263 496h3.5M269.5 496h3.5" stroke-width="1.65"/>
<rect x="262.0" y="498.5" width="10.0" height="63.5" fill="#000" stroke-width="1.65"/>
<rect x="264.0" y="562.0" width="7.0" height="20.0" fill="#000" stroke-width="1.54"/>
<path d="M262.5 565.0L271.5 565.0" stroke-width="1.43"/>
<rect x="252.5" y="496.0" width="7.0" height="64.0" rx="1" fill="#000" stroke-width="1.54"/>
<path d="M252.5 560L256 560L256 560" stroke-width="1.1"/>
<path d="M256 560L251.5 569H265L259.5 560" fill="#000" stroke-width="1.43"/>
<rect x="251.0" y="569.0" width="14.0" height="10.3" fill="#000" stroke-width="1.87"/>
<rect x="265.0" y="571.0" width="4.0" height="10.0" stroke-width="1.32"/>
<rect x="231" y="470" width="20.599999999999994" height="129" fill="url(#pg)" stroke="none"/>
<path d="M230.6 470V457L236 452L245 457L251.2 470Z" fill="#fff" stroke-width="0.5"/>
<path d="M251.6 470.0L251.6 603.0" stroke-width="1.32"/>
<path d="M232.5 418Q236.5 414 239.5 419L241.0 432L239.0 446L236.0 455L232.0 452Z" fill="#fff" stroke-width="0.6"/>
<path d="M448.5 418Q444.5 414 441.5 419L440.0 432L442.0 446L445.0 455L449.0 452Z" fill="#fff" stroke-width="0.6"/>
<path d="M238 449L243 452L255.5 492L253.5 496L249 480L243 462Z" fill="#fff" stroke-width="0.6"/>
<rect x="429.4" y="465" width="21.0" height="61" fill="url(#pgr)" stroke="none"/>
<path d="M450.4 465L448 457L440 453L436 458L430 470V465Z" fill="#fff" stroke-width="0.5"/>
<path d="M439.5 455L426.5 488L424.5 495L430 488V470Z" fill="#fff" stroke-width="0.5"/>
<path d="M430.0 488.0L430.0 603.0" stroke-width="1.65"/>
<path d="M450.6 465.0L450.6 603.0" stroke-width="1.76"/>
<rect x="430.0" y="526.5" width="12.8" height="54.0" fill="#000" stroke-width="1.65"/>
<rect x="442.8" y="526.0" width="10.2" height="60.0" fill="#fff" stroke-width="0.5"/>
<rect x="445.0" y="523.0" width="3.0" height="3.4" fill="#000" stroke-width="0.2"/>
<rect x="445.0" y="528.8" width="3.0" height="3.4" fill="#000" stroke-width="0.2"/>
<rect x="445.0" y="534.6" width="3.0" height="3.4" fill="#000" stroke-width="0.2"/>
<rect x="445.0" y="540.4" width="3.0" height="3.4" fill="#000" stroke-width="0.2"/>
<rect x="445.0" y="546.2" width="3.0" height="3.4" fill="#000" stroke-width="0.2"/>
<rect x="445.0" y="563.6" width="3.0" height="3.4" fill="#000" stroke-width="0.2"/>
<rect x="445.0" y="569.4" width="3.0" height="3.4" fill="#000" stroke-width="0.2"/>
<rect x="445.0" y="575.2" width="3.0" height="3.4" fill="#000" stroke-width="0.2"/>
<rect x="445.0" y="581.0" width="3.0" height="3.4" fill="#000" stroke-width="0.2"/>
<rect x="444.2" y="551.0" width="6.1" height="7.0" rx="2.2" fill="#000" stroke-width="0.6"/>
<path d="M450.4 528V586" stroke-width="0.99" stroke="#333" stroke-dasharray="18 4.5 1.5 4.5"/>
<path d="M427.5 583.5H445L441.5 597Q440 600 437 600H435Q432 600 430.5 597Z" fill="#000" stroke-width="1.76"/>
<path d="M430 586H442.8" stroke-width="1.32"/>
<circle cx="438.3" cy="591.8" r="2.5" fill="#fff" stroke-width="0.5"/>
<rect x="435.3" y="600.0" width="4.5" height="7.5" fill="#000" stroke-width="1.43"/>
<path d="M425 603V580H430" stroke-width="1.43"/>
<rect x="403.4" y="230.3" width="8.2" height="6.7" fill="#000" stroke-width="1.54"/>
<rect x="403.0" y="237.0" width="8.8" height="6.5" fill="#fff" stroke-width="0.5"/>
<path d="M405.0 240.3L410.0 240.3" stroke-width="1.1"/>
<rect x="403.4" y="244.3" width="8.2" height="8.7" fill="#000" stroke-width="1.54"/>
<path d="M411.6 246Q415 248 413.6 253" stroke-width="1.98"/>
<rect x="403.0" y="253.0" width="8.8" height="4.0" fill="#fff" stroke-width="0.5"/>
<rect x="403.4" y="257.0" width="8.2" height="4.7" fill="#000" stroke-width="1.43"/>
<path d="M403.6 331.3V261.7H410.9V331.3" fill="#000" stroke-width="1.65"/>
<path d="M403.6 378.3V507.5H410.9V378.3" fill="#000" stroke-width="1.65"/>
<path d="M403.6 431.7L410.9 431.7" stroke-width="1.43"/>
<path d="M403.6 469.3L410.9 469.3" stroke-width="1.43"/>
<rect x="403.6" y="507.5" width="7.3" height="6.5" fill="#000" stroke-width="1.54"/>
<path d="M402 514H412V521Q413.5 524 412.3 528V539Q412 545 407 545Q402 545 401.7 539V528Q400.5 524 402 521Z" fill="#ddd" stroke-width="1.32"/>
<rect x="403.6" y="515.5" width="6.8" height="4.5" fill="#000" stroke-width="0.4"/>
<rect x="403.8" y="526.0" width="5.8" height="3.0" rx="1.3" fill="#000" stroke-width="0.4"/>
<path d="M405.3 534.5Q405.3 533 407 533Q408.8 533 408.8 534.5V539.5Q408.8 541.3 407 541.3Q405.3 541.3 405.3 539.5Z" fill="#000" stroke-width="0.4"/>
<rect x="411.7" y="455.6" width="17.3" height="6.4" fill="#fff" stroke-width="0.5"/>
<rect x="413.7" y="456.6" width="7.3" height="4.4" fill="#000" stroke-width="0.3"/>
<rect x="423.7" y="456.6" width="4.6" height="4.4" fill="#000" stroke-width="0.3"/>
<path d="M411.0 463.6L428.0 463.6" stroke-width="1.32"/>
<rect x="411.3" y="466.0" width="16.4" height="12.0" rx="2" fill="#000" stroke-width="1.65"/>
<path d="M411.3 470H424A2.35 2.35 0 0 1 424 474.7H411.3" stroke-width="1.43"/>
<path d="M414.75 481.3V561.3A2.18 1.8 0 0 0 419.1 561.5V481.3" fill="#000" stroke-width="1.43"/>
<path d="M424.3 481.3V561.3A2.50 1.8 0 0 0 429.3 561.5V481.3" fill="#000" stroke-width="1.43"/>
<path d="M814.7 604V165Q814.7 142 834 130.5L872 108Q882.5 101.3 894 101.3H1005.3" stroke-width="2.09"/>
<path d="M825 604V168Q825 151 839.5 141.8L880 117.5Q889.5 112.2 898 112.4H1005.3" stroke-width="1.98"/>
<path d="M827.8 604V169Q827.8 153 841.5 144.2L856.5 135.3" stroke-width="1.54"/>
<path d="M825.0 168.7L898.0 168.7" stroke-width="1.54"/>
<circle cx="843.0" cy="175.0" r="3.6" fill="#fff" stroke-width="0.5"/>
<circle cx="879.7" cy="175.0" r="3.6" fill="#fff" stroke-width="0.5"/>
<path d="M895.3 168.7L895.3 616.0" stroke-width="1.32"/>
<path d="M856.7 133.5L856.7 168.7" stroke-width="1.54"/>
<path d="M854.4 132.9A10.3 10.3 0 1 0 870.3 123.3" stroke-width="1.65"/>
<path d="M865.75 133.61L869.48 137.02L870.87 134.95L866.31 132.78ZM864.33 133.94L863.98 138.98L866.48 138.78L865.33 133.85ZM863.19 133.03L859.03 135.91L860.74 137.73L863.88 133.76ZM863.19 131.58L858.35 130.12L857.99 132.59L863.04 132.57ZM864.32 130.67L862.45 125.97L860.29 127.23L863.46 131.17ZM865.74 130.99L868.24 126.59L865.91 125.69L864.81 130.63ZM866.38 132.30L871.37 131.51L870.62 129.13L866.08 131.34Z" fill="#fff" stroke-width="0.5"/>
<circle cx="864.7" cy="132.3" r="1.5" fill="#000" stroke-width="0.7"/>
<path d="M869.3 168.7V156Q869.5 151 874 148.5L897.3 135.3" stroke-width="1.54"/>
<path d="M881.29 158.37L887.10 161.59L888.05 159.28L881.67 157.45ZM880.15 158.97L881.98 165.35L884.29 164.40L881.07 158.59ZM878.93 158.59L875.71 164.40L878.02 165.35L879.85 158.97ZM878.33 157.45L871.95 159.28L872.90 161.59L878.71 158.37ZM878.71 156.23L872.90 153.01L871.95 155.32L878.33 157.15ZM879.85 155.63L878.02 149.25L875.71 150.20L878.93 156.01ZM881.07 156.01L884.29 150.20L881.98 149.25L880.15 155.63ZM881.67 157.15L888.05 155.32L887.10 153.01L881.29 156.23Z" fill="#fff" stroke-width="0.5"/>
<path d="M1005.3 92.7H1008.7Q1010.7 92.7 1010.7 94.7V110.7Q1010.7 112.7 1008.7 112.7H1005.3Z" stroke-width="1.54"/>
<path d="M955.3 97.6L966.7 91.3H1005.3M955 98H1005.3M969.3 91.3V101.3" stroke-width="1.54"/>
<path d="M1005.3 100.6L1010.7 100.6" stroke-width="1.1"/>
<circle cx="912.0" cy="107.0" r="2.8" stroke-width="1.54"/>
<circle cx="945.3" cy="107.0" r="4.1" stroke-width="1.32"/>
<circle cx="945.3" cy="107.0" r="2.1" stroke-width="1.21"/>
<circle cx="972.0" cy="107.0" r="4.1" stroke-width="1.32"/>
<circle cx="972.0" cy="107.0" r="2.1" stroke-width="1.21"/>
<circle cx="988.0" cy="107.0" r="2.8" stroke-width="1.54"/>
<path d="M905 101.3A8.5 6.5 0 0 1 921 101.3" stroke-width="1.54"/>
<path d="M907 101.3A6.5 4.5 0 0 1 919 101.3" stroke-width="1.1"/>
<path d="M906 112.7A7.5 5.5 0 0 0 920 112.7" stroke-width="1.43"/>
<path d="M984.5 101.3A8.5 6.5 0 0 1 1000.5 101.3" stroke-width="1.54"/>
<path d="M986.5 101.3A6.5 4.5 0 0 1 998.5 101.3" stroke-width="1.1"/>
<path d="M985.5 112.7A7.5 5.5 0 0 0 999.5 112.7" stroke-width="1.43"/>
<path d="M954.7 101.3A6 4 0 0 1 960 97.8" stroke-width="1.32"/>
<rect x="952.7" y="112.7" width="27.3" height="2.6" stroke-width="1.32"/>
<rect x="960.6" y="115.3" width="3.0" height="10.2" rx="1.5" stroke-width="1.21"/>
<path d="M967.6 112.7V121.3A7.7 7.7 0 0 0 983 121.3V112.7" fill="#000" stroke-width="1.65"/>
<circle cx="975.3" cy="121.3" r="3.0" stroke-width="1.76"/>
<path d="M968.2 126.7L968.2 590.0" stroke-width="1.65"/>
<path d="M983.0 126.7L983.0 590.0" stroke-width="1.65"/>
<circle cx="975.3" cy="154.8" r="2.6" stroke-width="1.38"/>
<circle cx="975.3" cy="166.5" r="2.6" stroke-width="1.38"/>
<circle cx="975.3" cy="213.3" r="2.6" stroke-width="1.38"/>
<circle cx="975.3" cy="225.0" r="2.6" stroke-width="1.38"/>
<circle cx="975.3" cy="236.7" r="2.6" stroke-width="1.38"/>
<circle cx="975.3" cy="248.4" r="2.6" stroke-width="1.38"/>
<circle cx="975.3" cy="260.1" r="2.6" stroke-width="1.38"/>
<circle cx="975.3" cy="271.8" r="2.6" stroke-width="1.38"/>
<circle cx="975.3" cy="283.5" r="2.6" stroke-width="1.38"/>
<circle cx="975.3" cy="295.2" r="2.6" stroke-width="1.38"/>
<circle cx="975.3" cy="306.9" r="2.6" stroke-width="1.38"/>
<circle cx="975.3" cy="330.3" r="2.6" stroke-width="1.38"/>
<circle cx="975.3" cy="342.0" r="2.6" stroke-width="1.38"/>
<circle cx="975.3" cy="353.7" r="2.6" stroke-width="1.38"/>
<circle cx="975.3" cy="365.4" r="2.6" stroke-width="1.38"/>
<circle cx="975.3" cy="377.1" r="2.6" stroke-width="1.38"/>
<circle cx="975.3" cy="388.8" r="2.6" stroke-width="1.38"/>
<circle cx="975.3" cy="423.9" r="2.6" stroke-width="1.38"/>
<circle cx="975.3" cy="435.6" r="2.6" stroke-width="1.38"/>
<circle cx="975.3" cy="447.3" r="2.6" stroke-width="1.38"/>
<circle cx="975.3" cy="459.0" r="2.6" stroke-width="1.38"/>
<circle cx="975.3" cy="494.1" r="2.6" stroke-width="1.38"/>
<circle cx="975.3" cy="505.8" r="2.6" stroke-width="1.38"/>
<circle cx="975.3" cy="517.5" r="2.6" stroke-width="1.38"/>
<circle cx="975.3" cy="529.2" r="2.6" stroke-width="1.38"/>
<circle cx="975.3" cy="540.9" r="2.6" stroke-width="1.38"/>
<circle cx="975.3" cy="552.6" r="2.6" stroke-width="1.38"/>
<circle cx="975.3" cy="564.3" r="2.6" stroke-width="1.38"/>
<rect x="978.6" y="159.5" width="2.0" height="1.8" fill="#fff" stroke-width="0.3"/>
<rect x="978.6" y="171.2" width="2.0" height="1.8" fill="#fff" stroke-width="0.3"/>
<rect x="978.6" y="182.9" width="2.0" height="1.8" fill="#fff" stroke-width="0.3"/>
<rect x="978.6" y="194.6" width="2.0" height="1.8" fill="#fff" stroke-width="0.3"/>
<rect x="978.6" y="206.3" width="2.0" height="1.8" fill="#fff" stroke-width="0.3"/>
<rect x="978.6" y="218.0" width="2.0" height="1.8" fill="#fff" stroke-width="0.3"/>
<rect x="978.6" y="229.7" width="2.0" height="1.8" fill="#fff" stroke-width="0.3"/>
<rect x="978.6" y="241.4" width="2.0" height="1.8" fill="#fff" stroke-width="0.3"/>
<rect x="978.6" y="253.1" width="2.0" height="1.8" fill="#fff" stroke-width="0.3"/>
<rect x="978.6" y="264.8" width="2.0" height="1.8" fill="#fff" stroke-width="0.3"/>
<rect x="978.6" y="276.5" width="2.0" height="1.8" fill="#fff" stroke-width="0.3"/>
<rect x="978.6" y="288.2" width="2.0" height="1.8" fill="#fff" stroke-width="0.3"/>
<rect x="978.6" y="299.9" width="2.0" height="1.8" fill="#fff" stroke-width="0.3"/>
<rect x="978.6" y="311.6" width="2.0" height="1.8" fill="#fff" stroke-width="0.3"/>
<rect x="978.6" y="323.3" width="2.0" height="1.8" fill="#fff" stroke-width="0.3"/>
<rect x="978.6" y="335.0" width="2.0" height="1.8" fill="#fff" stroke-width="0.3"/>
<rect x="978.6" y="346.7" width="2.0" height="1.8" fill="#fff" stroke-width="0.3"/>
<rect x="978.6" y="358.4" width="2.0" height="1.8" fill="#fff" stroke-width="0.3"/>
<rect x="978.6" y="370.1" width="2.0" height="1.8" fill="#fff" stroke-width="0.3"/>
<rect x="978.6" y="381.8" width="2.0" height="1.8" fill="#fff" stroke-width="0.3"/>
<rect x="978.6" y="393.5" width="2.0" height="1.8" fill="#fff" stroke-width="0.3"/>
<rect x="978.6" y="405.2" width="2.0" height="1.8" fill="#fff" stroke-width="0.3"/>
<rect x="978.6" y="416.9" width="2.0" height="1.8" fill="#fff" stroke-width="0.3"/>
<rect x="978.6" y="428.6" width="2.0" height="1.8" fill="#fff" stroke-width="0.3"/>
<rect x="978.6" y="440.3" width="2.0" height="1.8" fill="#fff" stroke-width="0.3"/>
<rect x="978.6" y="452.0" width="2.0" height="1.8" fill="#fff" stroke-width="0.3"/>
<rect x="978.6" y="463.7" width="2.0" height="1.8" fill="#fff" stroke-width="0.3"/>
<rect x="978.6" y="475.4" width="2.0" height="1.8" fill="#fff" stroke-width="0.3"/>
<rect x="978.6" y="487.1" width="2.0" height="1.8" fill="#fff" stroke-width="0.3"/>
<rect x="978.6" y="498.8" width="2.0" height="1.8" fill="#fff" stroke-width="0.3"/>
<rect x="978.6" y="510.5" width="2.0" height="1.8" fill="#fff" stroke-width="0.3"/>
<rect x="978.6" y="522.2" width="2.0" height="1.8" fill="#fff" stroke-width="0.3"/>
<rect x="978.6" y="533.9" width="2.0" height="1.8" fill="#fff" stroke-width="0.3"/>
<rect x="978.6" y="545.6" width="2.0" height="1.8" fill="#fff" stroke-width="0.3"/>
<rect x="978.6" y="557.3" width="2.0" height="1.8" fill="#fff" stroke-width="0.3"/>
<rect x="978.6" y="569.0" width="2.0" height="1.8" fill="#fff" stroke-width="0.3"/>
<path d="M957.3 203.0L957.3 592.0" stroke-width="1.1"/>
<path d="M959.6 203.0L959.6 592.0" stroke-width="0.99"/>
<path d="M999.3 112.7L999.3 152.0" stroke-width="1.32"/>
<path d="M995.5 112.7L995.5 140.0" stroke-width="0.99"/>
<rect x="955.3" y="176.7" width="11.1" height="26.6" fill="#000" stroke-width="1.43"/>
<path d="M956 178q-1.3 1.6 0 3.2q-1.3 1.6 0 3.2q-1.3 1.6 0 3.2q-1.3 1.6 0 3.2q-1.3 1.6 0 3.2q-1.3 1.6 0 3.2q-1.3 1.6 0 3.2q-1.3 1.6 0 3.2" stroke-width="1.32"/>
<rect x="966.4" y="172.7" width="17.9" height="34.6" rx="1.5" fill="#000" stroke-width="2.2"/>
<path d="M972.0 175.6L978.5 175.6" stroke-width="1.76"/>
<path d="M972.0 204.6L978.5 204.6" stroke-width="1.76"/>
<rect x="985.6" y="181.0" width="9.4" height="19.5" fill="#000" stroke-width="1.65"/>
<path d="M990.3 181.0L990.3 200.5" stroke-width="1.87"/>
<rect x="995.0" y="194.5" width="12.5" height="10.5" fill="#000" stroke-width="1.65"/>
<path d="M997 201.8H1006M997 203.6H1006" stroke-width="0.99"/>
<rect x="994.6" y="205.0" width="8.4" height="5.6" fill="#fff" stroke-width="0.8"/>
<rect x="996.5" y="207.0" width="1.8" height="2.0" fill="#000" stroke-width="0.2"/>
<rect x="999.6" y="207.0" width="1.8" height="2.0" fill="#000" stroke-width="0.2"/>
<path d="M1004.5 141L1006 139.5L1008.5 142L1013 141.5L1015 139.3L1017.5 141L1018.5 150L1019.3 165L1019 175L1016.5 180L1013 177L1011.5 183L1008.5 188L1010.5 190.5L1009.5 193L1005 193.5L1003.5 196.5L999 196.5L996 193L996.5 186L994 181L993.5 176L993 165L993.5 155L996 152.5L999 152.5L1002 150L1003 145Z" fill="#fff" stroke-width="0.8"/>
<path d="M997.5 160L1001.5 153.5L1003 154.5L999.5 161ZM994.5 170H1001.5L1001 176.5H997.5L997 173.5L994.5 174Z" fill="#000" stroke-width="0.2"/>
<path d="M1005 158l1.5 -2M1010.3 149v24M1014 150l0.6 24M1007 144l8 0.5M1003.5 176l1.5 2M1001 184l1.5 1.5M1004 186.5l2 1M998 181l1 2M1006 166l3 8M996 163l4 3" stroke-width="0.99" stroke="#333"/>
<path d="M897.3 604V121.5H905.3V604" fill="#000" stroke-width="1.65"/>
<path d="M898.5 121.5L901.3 113.5L904.1 121.5" stroke-width="1.32"/>
<path d="M896.3 119.3L906.3 119.3" stroke-width="1.43"/>
<path d="M910.7 112.7L910.7 577.0" stroke-width="1.1"/>
<path d="M913.5 112.7L913.5 577.0" stroke-width="1.32"/>
<path d="M917.0 160.0L917.0 577.0" stroke-width="1.1"/>
<path d="M913.5 149.3A3.6 8 0 0 1 913.5 165.3" stroke-width="1.43"/>
<path d="M915 151A2.2 6.3 0 0 1 915 163.6" stroke-width="0.99"/>
<circle cx="907.3" cy="157.3" r="1.9" stroke-width="1.21"/>
<path d="M906 124l3 6M906 132l3 6M906 141l3 5" stroke-width="1.1"/>
<path d="M905.3 200.6H910.7M905.3 203.4H910.7M907.3 200.6v2.8" stroke-width="1.1"/>
<path d="M905.3 230.4H910.7M905.3 233.2H910.7M907.3 230.4v2.8" stroke-width="1.1"/>
<path d="M905.3 260.2H910.7M905.3 263.0H910.7M907.3 260.2v2.8" stroke-width="1.1"/>
<path d="M905.3 290.0H910.7M905.3 292.8H910.7M907.3 290.0v2.8" stroke-width="1.1"/>
<path d="M905.3 319.8H910.7M905.3 322.6H910.7M907.3 319.8v2.8" stroke-width="1.1"/>
<path d="M905.3 349.6H910.7M905.3 352.4H910.7M907.3 349.6v2.8" stroke-width="1.1"/>
<path d="M905.3 379.4H910.7M905.3 382.2H910.7M907.3 379.4v2.8" stroke-width="1.1"/>
<path d="M905.3 409.2H910.7M905.3 412.0H910.7M907.3 409.2v2.8" stroke-width="1.1"/>
<path d="M905.3 439.0H910.7M905.3 441.8H910.7M907.3 439.0v2.8" stroke-width="1.1"/>
<path d="M905.3 468.8H910.7M905.3 471.6H910.7M907.3 468.8v2.8" stroke-width="1.1"/>
<path d="M905.3 498.6H910.7M905.3 501.4H910.7M907.3 498.6v2.8" stroke-width="1.1"/>
<path d="M905.3 528.4H910.7M905.3 531.2H910.7M907.3 528.4v2.8" stroke-width="1.1"/>
<path d="M905.3 558.2H910.7M905.3 561.0H910.7M907.3 558.2v2.8" stroke-width="1.1"/>
<path d="M770.7 180.7H808.5Q811.6 180.7 811.6 183.8V227.6H770.7Z" fill="#000" stroke-width="1.65"/>
<path d="M779.0 180.7L779.0 227.6" stroke-width="1.32"/>
<ellipse cx="803" cy="220.4" rx="2.3" ry="3.3" fill="#fff" stroke-width="0.6"/>
<path d="M770.7 217.5A2 2.6 0 0 0 770.7 222.7" fill="#fff" stroke-width="0.5"/>
<path d="M800 228.2A4.5 1.4 0 0 0 808.6 228.2" stroke-width="1.21"/>
<rect x="811.6" y="202.0" width="3.1" height="24.0" fill="#fff" stroke-width="0.4"/>
<circle cx="819.3" cy="210.7" r="4.4" fill="#000" stroke-width="1.43"/>
<circle cx="819.3" cy="210.7" r="2.1" stroke-width="1.21"/>
<circle cx="819.3" cy="229.6" r="4.4" fill="#000" stroke-width="1.43"/>
<circle cx="819.3" cy="229.6" r="2.1" stroke-width="1.21"/>
<path d="M780.0 227.6L780.0 604.0" stroke-width="1.54"/>
<path d="M786.0 227.6L786.0 604.0" stroke-width="1.54"/>
<path d="M790.0 227.6L790.0 460.0" stroke-width="1.32"/>
<path d="M794.3 227.6L794.3 460.0" stroke-width="1.32"/>
<rect x="777.8" y="232.7" width="2.2" height="13.3" fill="#fff" stroke-width="0.4"/>
<circle cx="784.0" cy="248.7" r="1.8" stroke-width="1.1"/>
<path d="M812.7 229V265" stroke-width="1.76" stroke-dasharray="4 2.2"/>
<path d="M808.3 232.0L808.3 264.0" stroke-width="1.1"/>
<rect x="795.3" y="250.0" width="2.9" height="13.3" stroke-width="1.21"/>
<path d="M798.2 258H812.5M798.2 261.3H812.5" stroke-width="1.1"/>
<path d="M799.5 271L812.7 264.7H824V297.3H814L800.5 291.3" fill="#000" stroke-width="1.76"/>
<circle cx="819.2" cy="269.4" r="2.8" fill="#fff" stroke-width="0.5"/>
<circle cx="819.2" cy="292.7" r="2.8" fill="#fff" stroke-width="0.5"/>
<circle cx="793.5" cy="281.0" r="9.4" fill="#000" stroke-width="2.2"/>
<path d="M787.0 274.7H792.5A6.3 6.3 0 0 1 792.5 287.3H787.0" stroke-width="1.43"/>
<circle cx="781.8" cy="281.0" r="5.1" fill="#000" stroke-width="2.09"/>
<path d="M779.0 281.0L784.5 281.0" stroke-width="2.2"/>
<path d="M799.5 388.3L812.7 382.0H824V414.6H814L800.5 408.6" fill="#000" stroke-width="1.76"/>
<circle cx="819.2" cy="386.7" r="2.8" fill="#fff" stroke-width="0.5"/>
<circle cx="819.2" cy="410.0" r="2.8" fill="#fff" stroke-width="0.5"/>
<circle cx="793.5" cy="398.3" r="9.4" fill="#000" stroke-width="2.2"/>
<path d="M787.0 392.0H792.5A6.3 6.3 0 0 1 792.5 404.6H787.0" stroke-width="1.43"/>
<circle cx="781.8" cy="398.3" r="5.1" fill="#000" stroke-width="2.09"/>
<path d="M779.0 398.3L784.5 398.3" stroke-width="2.2"/>
<path d="M799.5 504.79999999999995L812.7 498.49999999999994H824V531.0999999999999H814L800.5 525.0999999999999" fill="#000" stroke-width="1.76"/>
<circle cx="819.2" cy="503.2" r="2.8" fill="#fff" stroke-width="0.5"/>
<circle cx="819.2" cy="526.5" r="2.8" fill="#fff" stroke-width="0.5"/>
<circle cx="793.5" cy="514.8" r="9.4" fill="#000" stroke-width="2.2"/>
<path d="M787.0 508.49999999999994H792.5A6.3 6.3 0 0 1 792.5 521.0999999999999H787.0" stroke-width="1.43"/>
<circle cx="781.8" cy="514.8" r="5.1" fill="#000" stroke-width="2.09"/>
<path d="M779.0 514.8L784.5 514.8" stroke-width="2.2"/>
<path d="M811.5 297.5L811.5 382.0" stroke-width="1.32"/>
<path d="M808.6 297.5L808.6 382.0" stroke-width="1.1"/>
<path d="M797 298V306L800.5 310V330" stroke-width="1.21"/>
<rect x="800.0" y="301.0" width="8.3" height="21.0" rx="2.5" stroke-width="1.32"/>
<circle cx="803.4" cy="327.2" r="5.2" fill="#000" stroke-width="1.65"/>
<rect x="795.3" y="344.0" width="3.0" height="16.0" stroke-width="1.21"/>
<path d="M798.3 351.3H808M798.3 353.3H808" stroke-width="0.99"/>
<circle cx="809.2" cy="352.3" r="1.5" stroke-width="0.99"/>
<rect x="777.3" y="414.0" width="2.3" height="16.0" fill="#fff" stroke-width="0.4"/>
<path d="M806 415.3V432H813.5M806 418.5h5.5M806 421.7h5.5M806 424.9h5.5M806 428.1h5.5" stroke-width="1.43"/>
<path d="M796 428q3 4 0 8q-2 4 1.5 7q2.5 4 0 8v6" stroke-width="1.43"/>
<path d="M800 449h5v4.5h4v4h3.5" stroke-width="1.32"/>
<path d="M811.5 415.0L811.5 464.0" stroke-width="1.21"/>
<rect x="794.0" y="457.3" width="6.7" height="6.7" stroke-width="1.32"/>
<rect x="802.0" y="457.3" width="6.3" height="6.7" stroke-width="1.32"/>
<circle cx="764.7" cy="464.0" r="3.6" stroke-width="1.65"/>
<path d="M768.3 464.0L815.0 464.0" stroke-width="1.43"/>
<rect x="778.0" y="464.7" width="34.7" height="16.0" fill="#000" stroke-width="1.65"/>
<path d="M786.0 464.7L786.0 480.7" stroke-width="1.21"/>
<path d="M783 480.7a2 1.2 0 0 0 4 0" stroke-width="1.1"/>
<circle cx="819.3" cy="463.3" r="4.4" fill="#000" stroke-width="1.43"/>
<circle cx="819.3" cy="463.3" r="2.1" stroke-width="1.21"/>
<circle cx="819.3" cy="482.0" r="4.4" fill="#000" stroke-width="1.43"/>
<circle cx="819.3" cy="482.0" r="2.1" stroke-width="1.21"/>
<path d="M794.7 480.7V561.5A2.30 2 0 0 0 799.3 561.5V480.7" stroke-width="1.43"/>
<path d="M803.3 480.7V561.5A2.55 2 0 0 0 808.4 561.5V480.7" stroke-width="1.43"/>
<path d="M799.5 504.79999999999995L812.7 498.49999999999994H824V531.0999999999999H814L800.5 525.0999999999999" fill="#000" stroke-width="1.76"/>
<circle cx="819.2" cy="503.2" r="2.8" fill="#fff" stroke-width="0.5"/>
<circle cx="819.2" cy="526.5" r="2.8" fill="#fff" stroke-width="0.5"/>
<circle cx="793.5" cy="514.8" r="9.4" fill="#000" stroke-width="2.2"/>
<path d="M787.0 508.49999999999994H792.5A6.3 6.3 0 0 1 792.5 521.0999999999999H787.0" stroke-width="1.43"/>
<circle cx="781.8" cy="514.8" r="5.1" fill="#000" stroke-width="2.09"/>
<path d="M779.0 514.8L784.5 514.8" stroke-width="2.2"/>
<path d="M810 531V538q0 5 3.3 6" stroke-width="1.21"/>
<path d="M813.3 531.0L813.3 604.0" stroke-width="1.43"/>
<circle cx="819.3" cy="564.0" r="4.4" fill="#000" stroke-width="1.43"/>
<circle cx="819.3" cy="564.0" r="2.1" stroke-width="1.21"/>
<circle cx="819.3" cy="585.3" r="4.4" fill="#000" stroke-width="1.43"/>
<circle cx="819.3" cy="585.3" r="2.1" stroke-width="1.21"/>
<rect x="776.7" y="579.3" width="14.6" height="24.7" fill="#000" stroke-width="1.65"/>
<path d="M744 621.3V604H825" stroke-width="1.76"/>
<path d="M746.3 621.3V606.7H771.5" stroke-width="1.43"/>
<path d="M772.7 604.7L778 617.3M771.5 606.7L776.5 619.5" stroke-width="1.43"/>
<path d="M744 621.3H782V616.5H825" stroke-width="1.65"/>
<rect x="778.0" y="617.3" width="4.0" height="3.2" stroke-width="1.1"/>
<path d="M825.0 616.3L898.0 616.3" stroke-width="1.65"/>
<path d="M829 616.5q3.5 4.5 7 0M893 616.5q3 4 6 0" stroke-width="1.43"/>
<circle cx="842.7" cy="610.7" r="3.6" fill="#fff" stroke-width="0.5"/>
<circle cx="879.3" cy="610.7" r="3.6" fill="#fff" stroke-width="0.5"/><rect x="894.7" y="330.7" width="12.0" height="40.0" fill="#000" stroke-width="1.76"/>
<rect x="884.0" y="345.4" width="15.0" height="10.6" fill="#000" stroke-width="1.54"/>
<circle cx="899.3" cy="350.7" r="7.0" fill="#000" stroke-width="2.2"/>
<circle cx="884.0" cy="350.7" r="5.2" fill="#000" stroke-width="2.09"/>
<path d="M881.3 353.0L886.7 348.4" stroke-width="2.2"/>
<rect x="908.0" y="336.0" width="20.7" height="30.7" fill="#000" stroke-width="1.76"/>
<rect x="910.7" y="342.5" width="7.3" height="3.0" rx="1.5" fill="#fff" stroke-width="0.5"/>
<rect x="910.7" y="349.7" width="7.3" height="3.0" rx="1.5" fill="#fff" stroke-width="0.5"/>
<rect x="910.7" y="357.0" width="7.3" height="3.0" rx="1.5" fill="#fff" stroke-width="0.5"/>
<path d="M905.5 318Q905.5 313 910 313.2Q913.3 313.5 915 317L929.3 336" stroke-width="1.65"/>
<path d="M906.5 322Q908 318 910.5 319.5L917.5 336" stroke-width="1.54"/>
<path d="M927.3 330L948.7 315.3L954.7 323.3L938.5 335.5" fill="#000" stroke-width="1.65"/>
<path d="M948.7 315.3A3 5 -34 0 1 954.7 323.3" stroke-width="1.43"/>
<path d="M946.5 316.8A3 5 -34 0 0 952.5 324.8" stroke-width="1.1"/>
<path d="M939.3 345.3L966 330.7M940.7 350L968.5 332.8" stroke-width="1.54"/>
<circle cx="931.3" cy="337.3" r="3.0" fill="#000" stroke-width="1.65"/>
<circle cx="939.5" cy="337.6" r="3.0" fill="#000" stroke-width="1.65"/>
<circle cx="931.3" cy="363.5" r="3.0" fill="#000" stroke-width="1.65"/>
<path d="M934 339L937 339M928 340V336H934" stroke-width="1.1"/>
<circle cx="931.3" cy="350.7" r="8.9" fill="#ddd" stroke-width="1.54"/>
<circle cx="931.3" cy="350.7" r="5.4" fill="#fff" stroke-width="0.5"/>
<circle cx="931.3" cy="350.7" r="2.7" fill="#000" stroke-width="1.1"/>
<path d="M928 360V366.7" stroke-width="1.32"/>
<rect x="894.0" y="444.3" width="14.0" height="7.7" fill="#000" stroke-width="1.65"/>
<rect x="894.0" y="459.5" width="11.5" height="8.7" fill="#000" stroke-width="1.65"/>
<rect x="907.5" y="460.0" width="8.5" height="8.0" fill="#fff" stroke-width="0.5"/>
<path d="M909.5 460v8M911.5 460v8M913.5 460v8" stroke-width="0.7" stroke="#000"/>
<path d="M895.0 455.5L907.0 455.5" stroke-width="1.1"/>
<path d="M920.0 525.6L920.0 581.0" stroke-width="1.21"/>
<rect x="916.0" y="542.0" width="2.0" height="8.0" fill="#fff" stroke-width="0.4"/>
<path d="M894 577H912V616H894Z" fill="#000" stroke-width="1.65"/>
<path d="M895.3 577L900 582L912 600M896 581L903 584" stroke-width="1.32"/>
<circle cx="905.6" cy="597.7" r="3.0" fill="#fff" stroke-width="0.5"/>
<circle cx="905.6" cy="597.7" r="1.2" fill="#000" stroke-width="0.3"/>
<rect x="898.0" y="616.0" width="10.0" height="4.3" stroke-width="1.21"/>
<rect x="964.0" y="309.3" width="20.7" height="14.0" fill="#000" stroke-width="1.76"/>
<rect x="960.2" y="298.8" width="5.3" height="2.8" rx="1.4" stroke-width="1.21"/>
<path d="M984.7 292.7H990V318.5Q990 323 994 323L999 321.5Q1001.5 320.5 1002 317.5L1005 318.5Q1005 324.5 1000 326.5L989.5 331Q987 332 986 336L984.7 329.5Z" fill="#000" stroke-width="1.54"/>
<path d="M986.5 333L1002 326" stroke-width="1.1"/>
<path d="M985 297v10M987.5 297v10" stroke-width="0.8"/>
<path d="M984.7 396.7H1052.5A3.3 5.3 0 0 1 1052.5 407.3H984.7Z" fill="#000" stroke-width="1.65"/>
<rect x="990.0" y="396.7" width="6.7" height="10.6" stroke-width="1.32"/>
<rect x="969.3" y="398.7" width="15.4" height="14.6" fill="#000" stroke-width="1.76"/>
<rect x="972.0" y="400.3" width="18.0" height="2.7" fill="#fff" stroke-width="0.4"/>
<rect x="960.2" y="431.5" width="5.3" height="2.8" rx="1.4" stroke-width="1.21"/>
<rect x="984.0" y="429.0" width="2.5" height="8.0" stroke-width="0.99"/>
<rect x="965.6" y="461.7" width="126.7" height="18.3" fill="#000" stroke-width="1.76"/>
<rect x="1089.0" y="455.0" width="3.3" height="25.0" stroke-width="1.32"/>
<rect x="965.6" y="463.8" width="28.2" height="22.8" fill="#000" stroke-width="1.98"/>
<rect x="975.0" y="474.0" width="1.4" height="1.4" fill="#fff" stroke-width="0.4"/>
<rect x="975.0" y="484.0" width="1.4" height="1.4" fill="#fff" stroke-width="0.4"/>
<rect x="999.0" y="470.3" width="18.6" height="7.7" rx="1.5" fill="#ddd" stroke-width="0.8"/>
<circle cx="1026.7" cy="472.0" r="2.6" stroke-width="1.32"/>
<circle cx="1038.2" cy="472.0" r="2.6" stroke-width="1.32"/>
<circle cx="1049.8" cy="472.0" r="2.6" stroke-width="1.32"/>
<circle cx="1061.4" cy="472.0" r="2.6" stroke-width="1.32"/>
<circle cx="1072.9" cy="472.0" r="2.6" stroke-width="1.32"/>
<path d="M986.5 498.6L1027.5 480M987 501L1031.5 480" stroke-width="1.32"/>
<rect x="984.5" y="486.6" width="2.5" height="19.4" stroke-width="1.1"/>
<path d="M984 603L1110.7 611.7" stroke-width="1.54"/>
<path d="M955.8 585.2L1111.6 599.8V611.7H1106V600" fill="none" stroke-width="1.65"/>
<path d="M983 592.4L1106 603.4" stroke-width="1.43"/>
<path d="M983.2 587.8L984.2 598.8" stroke-width="1.1"/>
<path d="M967.6 604V596A7.7 7.7 0 0 1 983 596V604" fill="#000" stroke-width="1.76"/>
<circle cx="975.3" cy="596.0" r="3.0" stroke-width="1.76"/>
<path d="M915.8 602.5V590Q915.8 584 922 583.5Q928 582.5 932 584.3H940Q944 582.3 950 583.3Q955.5 584.3 957 590V602.5Z" fill="#000" stroke-width="1.87"/>
<circle cx="923.3" cy="593.2" r="3.0" stroke-width="1.65"/>
<circle cx="948.7" cy="593.2" r="3.0" stroke-width="1.65"/>
<path d="M957 588L968 590M957 592L968 594" stroke-width="1.32"/>
<rect x="900.6" y="605.3" width="123.4" height="10.1" fill="#000" stroke-width="1.65"/>
<circle cx="906.4" cy="611.0" r="2.6" stroke-width="1.32"/>
<circle cx="917.8" cy="611.0" r="2.6" stroke-width="1.32"/>
<circle cx="929.2" cy="611.0" r="2.6" stroke-width="1.32"/>
<circle cx="940.6" cy="611.0" r="2.6" stroke-width="1.32"/>
<circle cx="952.0" cy="611.0" r="2.6" stroke-width="1.32"/>
<circle cx="963.4" cy="611.0" r="2.6" stroke-width="1.32"/>
<circle cx="974.8" cy="611.0" r="2.6" stroke-width="1.32"/>
<circle cx="986.2" cy="611.0" r="2.6" stroke-width="1.32"/>
<circle cx="997.6" cy="611.0" r="2.6" stroke-width="1.32"/>
<circle cx="1009.0" cy="611.0" r="2.6" stroke-width="1.32"/>
<circle cx="1020.4" cy="611.0" r="2.6" stroke-width="1.32"/>
<path d="M1028.2 605.3H1054.8V620.8H1022.7Z" fill="#000" stroke-width="1.65"/>
<rect x="1054.8" y="603.4" width="6.4" height="17.4" stroke-width="1.43"/>
<path d="M1061.2 609.8L1105 614.4" stroke-width="1.43"/>
<path d="M1076.5 612.5q3 5 6 0.7" stroke-width="1.32"/>
<circle cx="1097.0" cy="618.0" r="3.6" fill="#000" stroke-width="1.43"/>
<circle cx="1097.0" cy="618.0" r="1.5" stroke-width="1.1"/>
<path d="M1093 613.3L1097 614.5" stroke-width="1.1"/>
<g id="tl"><path d="M340.3 780.2H291Q272 781 256 799.5L238 819" stroke-width="1.21"/>
<path d="M340.3 786.7H290Q272 786.7 256 800L236.5 820.5L250 824L262 812.5Q274 798.3 292 798H340.3Z" fill="#000" stroke-width="1.76"/>
<circle cx="310.8" cy="792.5" r="2.6" fill="#fff" stroke-width="0.5"/>
<path d="M340.3 769.5H286V777.8H340.3" fill="#000" stroke-width="1.65"/>
<circle cx="298.0" cy="773.7" r="1.6" stroke-width="1.1"/>
<rect x="290.5" y="780.0" width="8.3" height="6.3" stroke-width="1.32"/>
<rect x="301.0" y="780.0" width="8.3" height="6.3" stroke-width="1.32"/>
<path d="M309.3 780.0L340.3 780.0" stroke-width="1.32"/>
<path d="M290.5 777.8L290.5 780.0" stroke-width="1.21"/>
<path d="M292.0 801.8L340.3 801.8" stroke-width="2.2"/>
<path d="M340.3 808.5H268M340.3 813.8H268" stroke-width="1.43"/>
<path d="M274.0 808.5L274.0 813.8" stroke-width="1.43"/>
<path d="M281.5 808.5L281.5 813.8" stroke-width="1.43"/>
<path d="M335.5 808.5L335.5 813.8" stroke-width="1.43"/>
<rect x="287.5" y="809.6" width="10.5" height="3.0" rx="1.5" fill="#fff" stroke-width="0.5"/>
<path d="M340.3 840H293.5V813.8" stroke-width="1.65"/>
<path d="M293.5 835.5L340.3 835.5" stroke-width="1.43"/>
<rect x="303.3" y="802.0" width="8.2" height="3.0" stroke-width="1.21"/>
<path d="M304.8 805V829Q304.8 831 306 831M309.3 805V825" stroke-width="1.54"/>
<path d="M302 808l3 8M311.5 806v6" stroke-width="1.21"/>
<circle cx="303.2" cy="818.5" r="1.3" stroke-width="1.1"/>
<g transform="translate(254.8 768.2) rotate(12.6)"><rect x="-9.2" y="-17" width="18.4" height="37" rx="1.8" fill="#000" stroke-width="1.65"/><rect x="-6.2" y="-14" width="12.4" height="24.5" rx="1" stroke-width="1.43"/><path d="M-9 -13l2.6 -2M-9 -9l2.6 -2M-9 -5l2.6 -2M-9 -1l2.6 -2M-9 3l2.6 -2M-9 7l2.6 -2M6.4 -13l2.6 -2M6.4 -9l2.6 -2M6.4 -5l2.6 -2M6.4 -1l2.6 -2M6.4 3l2.6 -2M6.4 7l2.6 -2" stroke-width="0.8"/><path d="M-9.2 18V33M9.2 18V30" stroke-width="1.54"/><circle cx="0" cy="25.5" r="6.2" fill="#000" stroke-width="1.54"/><circle cx="0" cy="25.5" r="3.3" stroke-width="1.98"/></g>
<g transform="translate(169.5 791.3) rotate(12.08)"><path d="M51.1 -6.2H3A3.4 6.2 0 0 0 3 6.2H51.1" fill="#000" stroke-width="1.65"/><path d="M4 -5.4A2.6 5.4 0 0 0 4 5.4" stroke-width="1.1"/><rect x="51.1" y="-9.6" width="3.2" height="19.2" rx="1" fill="#000" stroke-width="1.54"/><path d="M54.3 -4.2H68.1M54.3 4.2H68.1" stroke-width="1.43"/></g>
<g transform="translate(115.3 893.0) rotate(13.01)"><path d="M67.9 -6.2H3A3.4 6.2 0 0 0 3 6.2H67.9" fill="#000" stroke-width="1.65"/><path d="M4 -5.4A2.6 5.4 0 0 0 4 5.4" stroke-width="1.1"/><rect x="67.9" y="-9.6" width="3.2" height="19.2" rx="1" fill="#000" stroke-width="1.54"/><path d="M71.1 -4.2H84.9M71.1 4.2H84.9" stroke-width="1.43"/></g>
<path d="M224 811q1 5 5 3.5q2.5 -1.5 1 -5" stroke-width="1.32"/>
<path d="M234.8 822L248.9 825L231 908.5L215 905Z" fill="#000" stroke-width="1.98"/>
<path d="M226.5 838L231 838.6M248.5 844L238 907L235 906.5L245.5 843.5Z" stroke-width="1.43"/>
<path d="M226 838L211.8 901L215.5 903" stroke-width="1.54"/>
<path d="M223 840L210.5 896" stroke-width="1.1"/>
<path d="M229.5 843.5L245 846M222 883L238.5 885.6M218 902.5L235 905" stroke-width="1.32"/>
<path d="M221.5 851l5.5 1l-2.3 11l-5.6 -1zM215.5 878l5.5 1l-1.8 9l-5.6 -1z" stroke-width="1.21"/>
<circle cx="225.5" cy="835.5" r="1.4" fill="#fff" stroke-width="0.4"/>
<circle cx="219.5" cy="849.5" r="1.2" fill="#fff" stroke-width="0.4"/>
<circle cx="212.3" cy="887.0" r="1.4" fill="#fff" stroke-width="0.4"/>
<circle cx="232.0" cy="826.5" r="1.5" stroke-width="1.1"/>
<circle cx="242.0" cy="827.5" r="1.5" stroke-width="1.1"/>
<circle cx="250.5" cy="829.0" r="1.5" stroke-width="1.1"/>
<path d="M229 822l-3 -1.5v4z" stroke-width="1.1"/>
<path d="M246 875.5l5.5 0.8l4 3.5l-1.7 1.8l-3.6 -2.6l-0.8 3l-2.2 -0.6M245 878l4 1" stroke-width="1.32"/>
<path d="M219.5 905.5L231 907.5L208.3 1014.5L194.3 1013.2Z" fill="#000" stroke-width="2.09"/>
<path d="M224.3 906.3L200.8 1013.8" stroke-width="1.43"/>
<g transform="translate(220.7 921.3) rotate(11.6)"><rect x="-2.6" y="-12" width="5.2" height="24" rx="2.6" fill="#eee" stroke-width="0.8"/></g>
<g transform="translate(203.2 999.3) rotate(10.6)"><rect x="-2.6" y="-11.5" width="5.2" height="23" rx="2.6" fill="#eee" stroke-width="0.8"/></g>
<circle cx="231.5" cy="921.0" r="1.5" stroke-width="1.1"/>
<circle cx="224.5" cy="957.5" r="1.8" stroke-width="1.1"/>
<circle cx="199.0" cy="978.5" r="1.8" stroke-width="1.1"/>
<circle cx="195.0" cy="988.0" r="1.6" stroke-width="1.1"/>
<circle cx="190.8" cy="910.0" r="4.4" fill="#000" stroke-width="1.54"/>
<circle cx="190.8" cy="910.0" r="1.9" stroke-width="1.32"/>
<path d="M186.5 904.5L203 908L201.3 916.5L185 913" stroke-width="1.43"/>
<path d="M196.5 906.8l-1.7 8M199.8 907.5l-1.7 8.3" stroke-width="1.21"/>
<path d="M203.5 909.5L214 911.5M202.5 914.5L213 916.7M206 910l-0.8 4.7M209.5 910.7l-0.8 4.7" stroke-width="1.21"/>
<path d="M189 917V930L186.5 936V945L190 948H197M193.5 917.5V944M189 930H204M190 936H206.5V922H199V917" stroke-width="1.32"/>
<path d="M199 926h5v6h-5zM196 938h6v5h-6z" stroke-width="1.21"/>
<circle cx="186.3" cy="940.0" r="1.6" fill="#fff" stroke-width="0.4"/>
<circle cx="195.0" cy="940.5" r="1.3" fill="#fff" stroke-width="0.4"/>
<path d="M204 945L211 946.5M205 950l4 1" stroke-width="1.21"/>
<rect x="225.3" y="936.3" width="44.2" height="7.5" fill="#000" stroke-width="1.65"/>
<path d="M246.3 936.3L246.3 943.8" stroke-width="1.43"/>
<path d="M340.3 964H220.5L217 979H340.3" fill="#000" stroke-width="1.76"/>
<path d="M221.5 962q3 -2.5 6 0" stroke-width="1.21"/>
<path d="M226.3 979V1013.4Q226.3 1020.4 233.3 1020.4H312Q315 1020.4 316.5 1017.6L336.3 979.8" stroke-width="1.65"/>
<path d="M232 979V1011Q232 1015 236 1015H308.2Q309.6 1015 310.3 1013.6L328.8 979.8" stroke-width="1.54"/>
<path d="M275.7 1015V1020.4M278 1015V1020.4M309 1015L312.5 1020.4" stroke-width="1.21"/>
<path d="M215.5 991.0L226.3 991.0" stroke-width="1.32"/>
<path d="M214.0 1000.0L226.3 1000.0" stroke-width="1.32"/>
<path d="M233.5 989.5Q257 991 261.3 1015M246 979Q268.5 986 272.6 1015M260 1005.6L268.8 1003" stroke-width="1.43"/>
<path d="M262.5 1020.6L274.4 1063.8Q279.5 1065.5 285 1061.9L273.1 1020.6" fill="#000" stroke-width="1.54"/>
<path d="M275 1061.6Q279.5 1062.8 284.4 1060.3" stroke-width="1.1"/>
<circle cx="243.3" cy="984.3" r="3.0" fill="#fff" stroke-width="0.5"/>
<circle cx="287.5" cy="993.5" r="9.8" fill="#000" stroke-width="1.76"/>
<path d="M282.5 984.2L283.5 980.3H291.5L292.5 984.2" stroke-width="1.32"/>
<path d="M290.6 1003V1114.5Q290.6 1120 296 1120H340.3" stroke-width="1.76"/>
<path d="M292.9 1003.0L292.9 1015.0" stroke-width="1.1"/>
<path d="M340.3 897.3H294Q289.8 897.3 289.8 901.5V961.8H340.3" fill="#000" stroke-width="1.65"/>
<path d="M291.5 902.5L340.3 902.5" stroke-width="1.32"/>
<path d="M289.8 908.5L340.3 908.5" stroke-width="2.42"/>
<path d="M289.8 931.8L340.3 931.8" stroke-width="1.65"/>
<path d="M289.8 939.3L340.3 939.3" stroke-width="1.65"/>
<path d="M292.0 941.6L340.3 941.6" stroke-width="0.99"/>
<path d="M298.0 947.5L340.3 947.5" stroke-width="1.32"/>
<path d="M298.0 953.5L340.3 953.5" stroke-width="1.32"/>
<path d="M295 943.8h6v5.5h-6zM295.5 949.3h5v5h-5zM294 954.3h8v5.3q-4 2 -8 0z" fill="#000" stroke-width="1.32"/>
<path d="M269.5 961.8V908L278.5 903.3V961.8" fill="#000" stroke-width="1.54"/>
<path d="M269.5 931.0L278.5 931.0" stroke-width="1.32"/>
<path d="M269.5 951.3L278.5 951.3" stroke-width="1.32"/>
<circle cx="273.6" cy="936.7" r="2.1" fill="#fff" stroke-width="0.4"/>
<path d="M272.3 947.5l1.3 -2.8l1.3 2.8z" fill="#fff" stroke-width="0.4"/>
<path d="M278.5 957V899.5A5.6 5.6 0 0 1 289.8 899.5V957" fill="#000" stroke-width="1.76"/>
<ellipse cx="284.1" cy="957.3" rx="5.3" ry="2.6" fill="#000" stroke-width="1.43"/>
<ellipse cx="284.1" cy="957.6" rx="3" ry="1.3" stroke-width="0.99"/>
<path d="M190.6 1016.9L179.4 1065L197.5 1070L198.5 1017" fill="#000" stroke-width="1.65"/>
<path d="M188.1 1038.1L196.9 1039.4V1065L182.5 1061.3Z" stroke-width="1.43"/>
<path d="M186 1040l-5 21.5" stroke-width="0.99"/>
<rect x="198.1" y="1016.9" width="12.5" height="84.4" fill="#000" stroke-width="1.76"/>
<rect x="200.2" y="1019.0" width="8.0" height="80.0" stroke-width="1.1"/>
<path d="M198.1 1100.3L210.6 1100.3" stroke-width="2.2"/>
<circle cx="204.2" cy="1047.3" r="1.9" fill="#fff" stroke-width="0.4"/>
<circle cx="204.2" cy="1092.8" r="1.9" fill="#fff" stroke-width="0.4"/>
<path d="M210.6 1000l2 0.5l-1 18M212 1004l1.5 0.3M212 1008l1.5 0.3" stroke-width="1.1"/>
<g transform="translate(193 1002) rotate(165.7)"><path d="M-6 -6Q0 -3.4 8 -3.4H78L82 -1.5V1.5L78 3.4H8Q2 3.4 -3 8" stroke-width="1.54"/><rect x="8" y="-3.4" width="18" height="6.8" fill="#999" stroke-width="1.1"/><rect x="50" y="-3.4" width="22" height="6.8" fill="#999" stroke-width="1.1"/><path d="M8 0H26M50 0H72" stroke-width="1.76" stroke="#000" stroke-dasharray="3 1.5"/><rect x="26" y="-4.8" width="3" height="9.6" rx="1" fill="#ddd" stroke-width="1.21"/><rect x="30" y="-3.4" width="4" height="6.8" fill="#999" stroke-width="1.1"/><rect x="37" y="-4.4" width="10" height="8.8" fill="#000" stroke-width="1.76"/><rect x="47" y="-5" width="2.6" height="10" fill="#ddd" stroke-width="1.1"/><rect x="34" y="-5" width="2.6" height="10" fill="#ddd" stroke-width="1.1"/><circle cx="75.5" cy="0" r="2.6" fill="#000" stroke-width="1.54"/><path d="M79 -3.5L83.5 -5V5L79 3.5Z" fill="#ccc" stroke-width="1.21"/></g>
<path d="M186.5 919h6M186.5 923h6M187 927h5M194 921h4M194 925h4M199.5 940h5M199 947h6M190 951h10" stroke-width="1.32"/>
<rect x="188.0" y="937.5" width="5.5" height="7.0" fill="#fff" stroke-width="0.5"/>
<rect x="189.5" y="939.0" width="2.5" height="4.0" fill="#000" stroke-width="0.3"/>
<circle cx="200.5" cy="929.0" r="2.0" fill="#fff" stroke-width="0.4"/></g>
<use href="#tl" transform="translate(680.6 0) scale(-1 1)"/>
<rect x="336.2" y="933.3" width="8.3" height="6.7" fill="#000" stroke-width="1.54"/>
<rect x="325.0" y="964.0" width="30.8" height="15.0" fill="#000" stroke-width="1.98"/>
<circle cx="331.0" cy="971.5" r="3.5" stroke-width="1.43"/>
<circle cx="349.2" cy="971.5" r="3.5" stroke-width="1.43"/>
<circle cx="331.0" cy="971.5" r="1.2" stroke-width="0.8"/>
<circle cx="349.2" cy="971.5" r="1.2" stroke-width="0.8"/>
<path d="M266.5 813.5Q268.5 813 270 815L282 833Q283.5 837 279.5 837.5L255.5 839.5Q251.5 839.5 252.5 836L263.5 815.5Q264.8 813.8 266.5 813.5Z" fill="#000" stroke-width="1.65"/>
<circle cx="265.8" cy="831.3" r="6.2" fill="#000" stroke-width="2.86"/>
<circle cx="265.8" cy="831.3" r="2.8" stroke-width="1.21"/>
<path d="M263.8 832.3L267.8 830.3" stroke-width="1.65"/>
<path d="M253 829l-3 1.2l0.6 5M258 817l-3.5 -0.5" stroke-width="1.21"/>
<path d="M405.0 816.3h3.6l0.4 4.3l4.3 0.4v3.6l-4.3 0.4l-0.4 4.3h-3.6l-0.4 -4.3l-4.3 -0.4v-3.6l4.3 -0.4z" stroke-width="1.43" transform="rotate(20 406.8 822.8)"/>
<circle cx="406.8" cy="822.8" r="1.3" stroke-width="0.99"/>
<path d="M410.8 817.3l4.5 -4M412.8 819.8l4 -3.5" stroke-width="1.21"/>
<g transform="translate(435.6 921) rotate(-8)"><rect x="-8.8" y="-9.3" width="17.6" height="18.6" rx="1.5" fill="#000" stroke-width="1.54"/><rect x="-7" y="-7.5" width="14" height="15" rx="1" stroke-width="0.99"/><circle cx="0" cy="0" r="5.6" fill="#000" stroke-width="2.2"/><path d="M-3 9.3v2.5h6v-2.5M-2 -9.3v-2h4v2M8.8 -3h2.2v6h-2.2" stroke-width="1.21"/></g>
</g>
</svg>
</body></html>
